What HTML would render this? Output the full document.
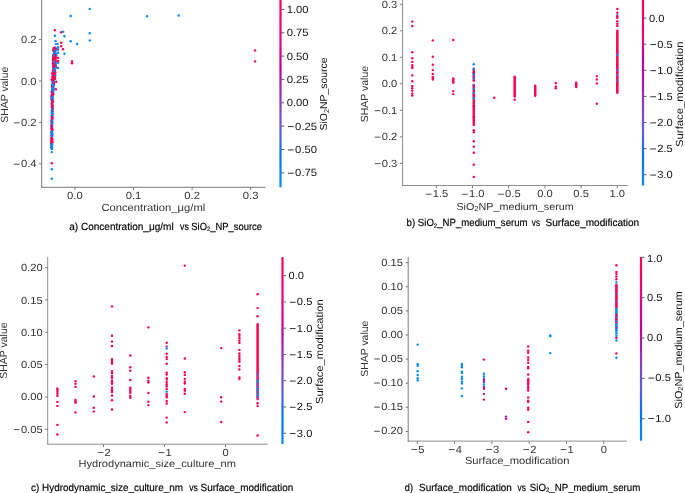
<!DOCTYPE html>
<html><head><meta charset="utf-8"><title>SHAP dependence plots</title>
<style>html,body{margin:0;padding:0;background:#fff;}body{width:685px;height:493px;overflow:hidden;font-family:"Liberation Sans",sans-serif;}svg{display:block;will-change:transform;opacity:0.9999;}text{font-family:"Liberation Sans",sans-serif;}</style>
</head><body>
<svg width="685" height="493" viewBox="0 0 685 493" font-family="Liberation Sans, sans-serif" text-rendering="geometricPrecision"><defs><linearGradient id="ga" gradientUnits="userSpaceOnUse" x1="0" y1="187.2" x2="0" y2="-8"><stop offset="0.000" stop-color="#008bfb"/><stop offset="0.050" stop-color="#0084f9"/><stop offset="0.100" stop-color="#007cf5"/><stop offset="0.150" stop-color="#0075f0"/><stop offset="0.200" stop-color="#246cea"/><stop offset="0.250" stop-color="#4b63e3"/><stop offset="0.300" stop-color="#635adb"/><stop offset="0.350" stop-color="#754fd1"/><stop offset="0.400" stop-color="#8443c6"/><stop offset="0.450" stop-color="#9135ba"/><stop offset="0.500" stop-color="#9b24ad"/><stop offset="0.550" stop-color="#ac16a7"/><stop offset="0.600" stop-color="#bb00a0"/><stop offset="0.650" stop-color="#c90098"/><stop offset="0.700" stop-color="#d5008f"/><stop offset="0.750" stop-color="#e00086"/><stop offset="0.800" stop-color="#e9007c"/><stop offset="0.850" stop-color="#f20072"/><stop offset="0.900" stop-color="#f90067"/><stop offset="0.950" stop-color="#fe005c"/><stop offset="1.000" stop-color="#ff0051"/></linearGradient><linearGradient id="gb" gradientUnits="userSpaceOnUse" x1="0" y1="185.5" x2="0" y2="-8.3"><stop offset="0.000" stop-color="#008bfb"/><stop offset="0.050" stop-color="#0084f9"/><stop offset="0.100" stop-color="#007cf5"/><stop offset="0.150" stop-color="#0075f0"/><stop offset="0.200" stop-color="#246cea"/><stop offset="0.250" stop-color="#4b63e3"/><stop offset="0.300" stop-color="#635adb"/><stop offset="0.350" stop-color="#754fd1"/><stop offset="0.400" stop-color="#8443c6"/><stop offset="0.450" stop-color="#9135ba"/><stop offset="0.500" stop-color="#9b24ad"/><stop offset="0.550" stop-color="#ac16a7"/><stop offset="0.600" stop-color="#bb00a0"/><stop offset="0.650" stop-color="#c90098"/><stop offset="0.700" stop-color="#d5008f"/><stop offset="0.750" stop-color="#e00086"/><stop offset="0.800" stop-color="#e9007c"/><stop offset="0.850" stop-color="#f20072"/><stop offset="0.900" stop-color="#f90067"/><stop offset="0.950" stop-color="#fe005c"/><stop offset="1.000" stop-color="#ff0051"/></linearGradient><linearGradient id="gc" gradientUnits="userSpaceOnUse" x1="0" y1="444.0" x2="0" y2="257.1"><stop offset="0.000" stop-color="#008bfb"/><stop offset="0.050" stop-color="#0084f9"/><stop offset="0.100" stop-color="#007cf5"/><stop offset="0.150" stop-color="#0075f0"/><stop offset="0.200" stop-color="#246cea"/><stop offset="0.250" stop-color="#4b63e3"/><stop offset="0.300" stop-color="#635adb"/><stop offset="0.350" stop-color="#754fd1"/><stop offset="0.400" stop-color="#8443c6"/><stop offset="0.450" stop-color="#9135ba"/><stop offset="0.500" stop-color="#9b24ad"/><stop offset="0.550" stop-color="#ac16a7"/><stop offset="0.600" stop-color="#bb00a0"/><stop offset="0.650" stop-color="#c90098"/><stop offset="0.700" stop-color="#d5008f"/><stop offset="0.750" stop-color="#e00086"/><stop offset="0.800" stop-color="#e9007c"/><stop offset="0.850" stop-color="#f20072"/><stop offset="0.900" stop-color="#f90067"/><stop offset="0.950" stop-color="#fe005c"/><stop offset="1.000" stop-color="#ff0051"/></linearGradient><linearGradient id="gd" gradientUnits="userSpaceOnUse" x1="0" y1="440.7" x2="0" y2="257.0"><stop offset="0.000" stop-color="#008bfb"/><stop offset="0.050" stop-color="#0084f9"/><stop offset="0.100" stop-color="#007cf5"/><stop offset="0.150" stop-color="#0075f0"/><stop offset="0.200" stop-color="#246cea"/><stop offset="0.250" stop-color="#4b63e3"/><stop offset="0.300" stop-color="#635adb"/><stop offset="0.350" stop-color="#754fd1"/><stop offset="0.400" stop-color="#8443c6"/><stop offset="0.450" stop-color="#9135ba"/><stop offset="0.500" stop-color="#9b24ad"/><stop offset="0.550" stop-color="#ac16a7"/><stop offset="0.600" stop-color="#bb00a0"/><stop offset="0.650" stop-color="#c90098"/><stop offset="0.700" stop-color="#d5008f"/><stop offset="0.750" stop-color="#e00086"/><stop offset="0.800" stop-color="#e9007c"/><stop offset="0.850" stop-color="#f20072"/><stop offset="0.900" stop-color="#f90067"/><stop offset="0.950" stop-color="#fe005c"/><stop offset="1.000" stop-color="#ff0051"/></linearGradient></defs><line x1="41.70" y1="0.00" x2="41.70" y2="187.70" stroke="#5e5e5e" stroke-width="0.85"/>
<line x1="41.30" y1="187.30" x2="265.70" y2="187.30" stroke="#5e5e5e" stroke-width="0.85"/>
<line x1="38.90" y1="39.60" x2="41.40" y2="39.60" stroke="#444" stroke-width="0.7"/>
<text x="20.94" y="43.20" font-size="10.45" fill="#333333" textLength="15.66" lengthAdjust="spacingAndGlyphs">0.2</text>
<line x1="38.90" y1="81.00" x2="41.40" y2="81.00" stroke="#444" stroke-width="0.7"/>
<text x="20.94" y="84.60" font-size="10.45" fill="#333333" textLength="15.66" lengthAdjust="spacingAndGlyphs">0.0</text>
<line x1="38.90" y1="122.40" x2="41.40" y2="122.40" stroke="#444" stroke-width="0.7"/>
<line x1="13.89" y1="122.83" x2="19.67" y2="122.83" stroke="#333333" stroke-width="0.86"/>
<text x="20.94" y="126.00" font-size="10.45" fill="#333333" textLength="15.66" lengthAdjust="spacingAndGlyphs">0.2</text>
<line x1="38.90" y1="163.80" x2="41.40" y2="163.80" stroke="#444" stroke-width="0.7"/>
<line x1="13.89" y1="164.23" x2="19.67" y2="164.23" stroke="#333333" stroke-width="0.86"/>
<text x="20.94" y="167.40" font-size="10.45" fill="#333333" textLength="15.66" lengthAdjust="spacingAndGlyphs">0.4</text>
<line x1="74.90" y1="187.60" x2="74.90" y2="190.10" stroke="#444" stroke-width="0.7"/>
<text x="67.07" y="198.50" font-size="10.45" fill="#333333" textLength="15.66" lengthAdjust="spacingAndGlyphs">0.0</text>
<line x1="133.50" y1="187.60" x2="133.50" y2="190.10" stroke="#444" stroke-width="0.7"/>
<text x="125.67" y="198.50" font-size="10.45" fill="#333333" textLength="15.66" lengthAdjust="spacingAndGlyphs">0.1</text>
<line x1="192.10" y1="187.60" x2="192.10" y2="190.10" stroke="#444" stroke-width="0.7"/>
<text x="184.27" y="198.50" font-size="10.45" fill="#333333" textLength="15.66" lengthAdjust="spacingAndGlyphs">0.2</text>
<line x1="250.70" y1="187.60" x2="250.70" y2="190.10" stroke="#444" stroke-width="0.7"/>
<text x="242.87" y="198.50" font-size="10.45" fill="#333333" textLength="15.66" lengthAdjust="spacingAndGlyphs">0.3</text>
<text x="101.4" y="210.5" font-size="10.4" text-anchor="start" fill="#333333" textLength="103.9" lengthAdjust="spacingAndGlyphs">Concentration_μg/ml</text>
<text x="8.5" y="94.7" font-size="10.4" text-anchor="middle" fill="#333333" textLength="55.9" lengthAdjust="spacingAndGlyphs" transform="rotate(-90 8.5 94.7)">SHAP value</text>
<text x="69.2" y="229.8" font-size="10.3" text-anchor="start" fill="#000" textLength="104.5" lengthAdjust="spacingAndGlyphs" stroke="#000" stroke-width="0.18">a) Concentration_μg/ml</text>
<text x="180.1" y="229.8" font-size="10.3" text-anchor="start" fill="#000" textLength="8.8" lengthAdjust="spacingAndGlyphs" stroke="#000" stroke-width="0.18">vs</text>
<text x="191.3" y="229.8" font-size="10.3" text-anchor="start" fill="#000" textLength="70.7" lengthAdjust="spacingAndGlyphs" stroke="#000" stroke-width="0.18">SiO<tspan font-size="6.5" dy="1.5">2</tspan><tspan dy="-1.5">_NP_source</tspan></text>
<rect x="279.40" y="0.00" width="2.2" height="187.20" fill="url(#ga)"/>
<line x1="281.60" y1="9.40" x2="284.20" y2="9.40" stroke="#222" stroke-width="0.75"/>
<text x="286.68" y="13.00" font-size="10.45" fill="#111111" textLength="21.92" lengthAdjust="spacingAndGlyphs">1.00</text>
<line x1="281.60" y1="32.75" x2="284.20" y2="32.75" stroke="#222" stroke-width="0.75"/>
<text x="286.68" y="36.35" font-size="10.45" fill="#111111" textLength="21.92" lengthAdjust="spacingAndGlyphs">0.75</text>
<line x1="281.60" y1="56.10" x2="284.20" y2="56.10" stroke="#222" stroke-width="0.75"/>
<text x="286.68" y="59.70" font-size="10.45" fill="#111111" textLength="21.92" lengthAdjust="spacingAndGlyphs">0.50</text>
<line x1="281.60" y1="79.45" x2="284.20" y2="79.45" stroke="#222" stroke-width="0.75"/>
<text x="286.68" y="83.05" font-size="10.45" fill="#111111" textLength="21.92" lengthAdjust="spacingAndGlyphs">0.25</text>
<line x1="281.60" y1="102.80" x2="284.20" y2="102.80" stroke="#222" stroke-width="0.75"/>
<text x="286.68" y="106.40" font-size="10.45" fill="#111111" textLength="21.92" lengthAdjust="spacingAndGlyphs">0.00</text>
<line x1="281.60" y1="126.15" x2="284.20" y2="126.15" stroke="#222" stroke-width="0.75"/>
<line x1="288.02" y1="126.58" x2="293.79" y2="126.58" stroke="#111111" stroke-width="0.86"/>
<text x="295.14" y="129.75" font-size="10.45" fill="#111111" textLength="21.92" lengthAdjust="spacingAndGlyphs">0.25</text>
<line x1="281.60" y1="149.50" x2="284.20" y2="149.50" stroke="#222" stroke-width="0.75"/>
<line x1="288.02" y1="149.93" x2="293.79" y2="149.93" stroke="#111111" stroke-width="0.86"/>
<text x="295.14" y="153.10" font-size="10.45" fill="#111111" textLength="21.92" lengthAdjust="spacingAndGlyphs">0.50</text>
<line x1="281.60" y1="172.85" x2="284.20" y2="172.85" stroke="#222" stroke-width="0.75"/>
<line x1="288.02" y1="173.28" x2="293.79" y2="173.28" stroke="#111111" stroke-width="0.86"/>
<text x="295.14" y="176.45" font-size="10.45" fill="#111111" textLength="21.92" lengthAdjust="spacingAndGlyphs">0.75</text>
<text x="327.4" y="94.0" font-size="10.0" text-anchor="middle" fill="#111111" textLength="72.9" lengthAdjust="spacingAndGlyphs" transform="rotate(-90 327.4 94.0)">SiO<tspan font-size="7" dy="1.5">2</tspan><tspan dy="-1.5">NP_source</tspan></text>
<circle cx="53.8" cy="48.1" r="1.22" fill="#ff0052"/>
<circle cx="55.0" cy="47.9" r="1.22" fill="#ff0052"/>
<circle cx="54.9" cy="47.6" r="1.22" fill="#ff0052"/>
<circle cx="53.5" cy="48.6" r="1.22" fill="#008bfb"/>
<circle cx="55.9" cy="48.6" r="1.22" fill="#008bfb"/>
<circle cx="55.3" cy="49.3" r="1.22" fill="#ff0052"/>
<circle cx="54.5" cy="50.2" r="1.22" fill="#008bfb"/>
<circle cx="56.0" cy="49.6" r="1.22" fill="#ff0052"/>
<circle cx="53.6" cy="49.6" r="1.22" fill="#ff0052"/>
<circle cx="53.8" cy="50.8" r="1.22" fill="#008bfb"/>
<circle cx="54.4" cy="50.7" r="1.22" fill="#008bfb"/>
<circle cx="53.4" cy="50.5" r="1.22" fill="#ff0052"/>
<circle cx="54.6" cy="51.5" r="1.22" fill="#008bfb"/>
<circle cx="54.7" cy="51.4" r="1.22" fill="#008bfb"/>
<circle cx="55.4" cy="51.4" r="1.22" fill="#008bfb"/>
<circle cx="54.9" cy="52.8" r="1.22" fill="#008bfb"/>
<circle cx="54.1" cy="52.9" r="1.22" fill="#008bfb"/>
<circle cx="54.5" cy="52.7" r="1.22" fill="#ff0052"/>
<circle cx="54.7" cy="53.0" r="1.22" fill="#ff0052"/>
<circle cx="55.6" cy="53.5" r="1.22" fill="#008bfb"/>
<circle cx="54.2" cy="53.6" r="1.22" fill="#008bfb"/>
<circle cx="55.0" cy="54.3" r="1.22" fill="#008bfb"/>
<circle cx="56.2" cy="54.3" r="1.22" fill="#008bfb"/>
<circle cx="53.3" cy="54.5" r="1.22" fill="#008bfb"/>
<circle cx="56.3" cy="55.5" r="1.22" fill="#008bfb"/>
<circle cx="54.4" cy="55.3" r="1.22" fill="#ff0052"/>
<circle cx="54.6" cy="54.9" r="1.22" fill="#ff0052"/>
<circle cx="53.3" cy="56.3" r="1.22" fill="#ff0052"/>
<circle cx="53.9" cy="56.0" r="1.22" fill="#ff0052"/>
<circle cx="53.4" cy="56.1" r="1.22" fill="#008bfb"/>
<circle cx="55.9" cy="57.3" r="1.22" fill="#ff0052"/>
<circle cx="54.0" cy="56.9" r="1.22" fill="#008bfb"/>
<circle cx="55.9" cy="57.4" r="1.22" fill="#ff0052"/>
<circle cx="53.6" cy="57.7" r="1.22" fill="#ff0052"/>
<circle cx="54.6" cy="58.0" r="1.22" fill="#ff0052"/>
<circle cx="53.1" cy="57.8" r="1.22" fill="#ff0052"/>
<circle cx="54.8" cy="59.2" r="1.22" fill="#ff0052"/>
<circle cx="54.7" cy="58.9" r="1.22" fill="#ff0052"/>
<circle cx="53.2" cy="59.1" r="1.22" fill="#ff0052"/>
<circle cx="55.8" cy="59.9" r="1.22" fill="#ff0052"/>
<circle cx="54.3" cy="59.4" r="1.22" fill="#ff0052"/>
<circle cx="53.2" cy="59.4" r="1.22" fill="#ff0052"/>
<circle cx="53.5" cy="60.5" r="1.22" fill="#ff0052"/>
<circle cx="53.0" cy="60.3" r="1.22" fill="#ff0052"/>
<circle cx="54.1" cy="60.2" r="1.22" fill="#ff0052"/>
<circle cx="54.9" cy="61.2" r="1.22" fill="#008bfb"/>
<circle cx="54.1" cy="61.4" r="1.22" fill="#ff0052"/>
<circle cx="55.7" cy="61.9" r="1.22" fill="#ff0052"/>
<circle cx="54.5" cy="62.1" r="1.22" fill="#ff0052"/>
<circle cx="54.0" cy="62.2" r="1.22" fill="#ff0052"/>
<circle cx="53.4" cy="62.0" r="1.22" fill="#008bfb"/>
<circle cx="54.6" cy="63.0" r="1.22" fill="#008bfb"/>
<circle cx="53.0" cy="63.3" r="1.22" fill="#ff0052"/>
<circle cx="55.6" cy="63.5" r="1.22" fill="#008bfb"/>
<circle cx="54.0" cy="63.9" r="1.22" fill="#ff0052"/>
<circle cx="54.5" cy="64.4" r="1.22" fill="#ff0052"/>
<circle cx="53.5" cy="64.4" r="1.22" fill="#ff0052"/>
<circle cx="55.5" cy="65.3" r="1.22" fill="#008bfb"/>
<circle cx="55.2" cy="64.9" r="1.22" fill="#008bfb"/>
<circle cx="53.9" cy="64.7" r="1.22" fill="#ff0052"/>
<circle cx="53.7" cy="65.8" r="1.22" fill="#ff0052"/>
<circle cx="55.8" cy="66.0" r="1.22" fill="#ff0052"/>
<circle cx="55.9" cy="66.4" r="1.22" fill="#008bfb"/>
<circle cx="53.4" cy="66.7" r="1.22" fill="#ff0052"/>
<circle cx="53.4" cy="67.0" r="1.22" fill="#ff0052"/>
<circle cx="55.4" cy="66.9" r="1.22" fill="#008bfb"/>
<circle cx="55.2" cy="67.5" r="1.22" fill="#ff0052"/>
<circle cx="55.6" cy="68.0" r="1.22" fill="#ff0052"/>
<circle cx="54.2" cy="67.5" r="1.22" fill="#ff0052"/>
<circle cx="53.7" cy="68.9" r="1.22" fill="#ff0052"/>
<circle cx="53.9" cy="68.6" r="1.22" fill="#008bfb"/>
<circle cx="55.0" cy="68.4" r="1.22" fill="#008bfb"/>
<circle cx="53.1" cy="69.9" r="1.22" fill="#ff0052"/>
<circle cx="53.1" cy="69.9" r="1.22" fill="#008bfb"/>
<circle cx="54.7" cy="69.5" r="1.22" fill="#008bfb"/>
<circle cx="53.0" cy="70.1" r="1.22" fill="#ff0052"/>
<circle cx="54.6" cy="70.5" r="1.22" fill="#008bfb"/>
<circle cx="53.9" cy="70.8" r="1.22" fill="#008bfb"/>
<circle cx="53.1" cy="71.2" r="1.22" fill="#008bfb"/>
<circle cx="53.2" cy="71.5" r="1.22" fill="#ff0052"/>
<circle cx="53.8" cy="71.1" r="1.22" fill="#ff0052"/>
<circle cx="53.5" cy="72.3" r="1.22" fill="#008bfb"/>
<circle cx="55.3" cy="72.2" r="1.22" fill="#ff0052"/>
<circle cx="54.0" cy="72.3" r="1.22" fill="#008bfb"/>
<circle cx="52.4" cy="73.2" r="1.22" fill="#ff0052"/>
<circle cx="52.3" cy="73.4" r="1.22" fill="#ff0052"/>
<circle cx="53.8" cy="73.4" r="1.22" fill="#ff0052"/>
<circle cx="53.3" cy="74.1" r="1.22" fill="#ff0052"/>
<circle cx="54.7" cy="73.8" r="1.22" fill="#ff0052"/>
<circle cx="53.0" cy="73.9" r="1.22" fill="#ff0052"/>
<circle cx="53.8" cy="75.0" r="1.22" fill="#ff0052"/>
<circle cx="55.1" cy="75.0" r="1.22" fill="#ff0052"/>
<circle cx="53.8" cy="75.0" r="1.22" fill="#ff0052"/>
<circle cx="53.5" cy="75.9" r="1.22" fill="#ff0052"/>
<circle cx="55.1" cy="76.1" r="1.22" fill="#ff0052"/>
<circle cx="55.1" cy="75.7" r="1.22" fill="#008bfb"/>
<circle cx="55.0" cy="77.1" r="1.22" fill="#ff0052"/>
<circle cx="52.4" cy="76.8" r="1.22" fill="#ff0052"/>
<circle cx="52.8" cy="76.5" r="1.22" fill="#ff0052"/>
<circle cx="54.4" cy="78.0" r="1.22" fill="#ff0052"/>
<circle cx="54.2" cy="77.8" r="1.22" fill="#ff0052"/>
<circle cx="54.7" cy="78.1" r="1.22" fill="#ff0052"/>
<circle cx="54.9" cy="78.5" r="1.22" fill="#ff0052"/>
<circle cx="55.0" cy="78.9" r="1.22" fill="#ff0052"/>
<circle cx="53.2" cy="78.6" r="1.22" fill="#ff0052"/>
<circle cx="52.4" cy="79.4" r="1.22" fill="#ff0052"/>
<circle cx="51.8" cy="79.5" r="1.22" fill="#ff0052"/>
<circle cx="51.8" cy="79.4" r="1.22" fill="#ff0052"/>
<circle cx="53.3" cy="80.1" r="1.22" fill="#ff0052"/>
<circle cx="53.8" cy="80.8" r="1.22" fill="#008bfb"/>
<circle cx="52.8" cy="80.9" r="1.22" fill="#ff0052"/>
<circle cx="52.8" cy="81.0" r="1.22" fill="#ff0052"/>
<circle cx="53.9" cy="82.5" r="1.22" fill="#008bfb"/>
<circle cx="52.5" cy="82.5" r="1.22" fill="#008bfb"/>
<circle cx="53.4" cy="82.8" r="1.22" fill="#008bfb"/>
<circle cx="53.4" cy="83.0" r="1.22" fill="#ff0052"/>
<circle cx="53.8" cy="84.1" r="1.22" fill="#ff0052"/>
<circle cx="52.3" cy="84.3" r="1.22" fill="#008bfb"/>
<circle cx="53.6" cy="84.9" r="1.22" fill="#ff0052"/>
<circle cx="53.1" cy="85.2" r="1.22" fill="#008bfb"/>
<circle cx="52.2" cy="85.8" r="1.22" fill="#008bfb"/>
<circle cx="52.2" cy="85.5" r="1.22" fill="#008bfb"/>
<circle cx="52.3" cy="86.5" r="1.22" fill="#ff0052"/>
<circle cx="53.3" cy="86.5" r="1.22" fill="#008bfb"/>
<circle cx="52.2" cy="87.5" r="1.22" fill="#008bfb"/>
<circle cx="52.3" cy="87.2" r="1.22" fill="#ff0052"/>
<circle cx="52.8" cy="88.3" r="1.22" fill="#008bfb"/>
<circle cx="53.5" cy="88.2" r="1.22" fill="#008bfb"/>
<circle cx="52.5" cy="89.4" r="1.22" fill="#008bfb"/>
<circle cx="52.4" cy="89.4" r="1.22" fill="#008bfb"/>
<circle cx="53.5" cy="90.2" r="1.22" fill="#008bfb"/>
<circle cx="53.0" cy="90.4" r="1.22" fill="#008bfb"/>
<circle cx="52.3" cy="90.8" r="1.22" fill="#008bfb"/>
<circle cx="51.8" cy="91.4" r="1.22" fill="#ff0052"/>
<circle cx="51.9" cy="91.8" r="1.22" fill="#008bfb"/>
<circle cx="53.2" cy="92.2" r="1.22" fill="#008bfb"/>
<circle cx="52.0" cy="92.8" r="1.22" fill="#ff0052"/>
<circle cx="51.9" cy="93.0" r="1.22" fill="#ff0052"/>
<circle cx="53.3" cy="94.3" r="1.22" fill="#ff0052"/>
<circle cx="52.0" cy="94.3" r="1.22" fill="#008bfb"/>
<circle cx="52.2" cy="94.4" r="1.22" fill="#ff0052"/>
<circle cx="52.4" cy="94.8" r="1.22" fill="#ff0052"/>
<circle cx="52.4" cy="95.3" r="1.22" fill="#ff0052"/>
<circle cx="51.7" cy="95.6" r="1.22" fill="#ff0052"/>
<circle cx="51.5" cy="96.4" r="1.22" fill="#ff0052"/>
<circle cx="52.6" cy="96.6" r="1.22" fill="#008bfb"/>
<circle cx="52.7" cy="97.7" r="1.22" fill="#008bfb"/>
<circle cx="52.2" cy="97.4" r="1.22" fill="#008bfb"/>
<circle cx="51.7" cy="98.6" r="1.22" fill="#008bfb"/>
<circle cx="51.5" cy="98.7" r="1.22" fill="#ff0052"/>
<circle cx="52.6" cy="99.5" r="1.22" fill="#008bfb"/>
<circle cx="51.7" cy="99.3" r="1.22" fill="#008bfb"/>
<circle cx="52.6" cy="100.4" r="1.22" fill="#ff0052"/>
<circle cx="52.4" cy="100.5" r="1.22" fill="#008bfb"/>
<circle cx="52.4" cy="100.9" r="1.22" fill="#ff0052"/>
<circle cx="52.0" cy="101.0" r="1.22" fill="#ff0052"/>
<circle cx="52.5" cy="102.0" r="1.22" fill="#ff0052"/>
<circle cx="52.4" cy="102.1" r="1.22" fill="#ff0052"/>
<circle cx="51.9" cy="103.1" r="1.22" fill="#ff0052"/>
<circle cx="52.3" cy="102.9" r="1.22" fill="#ff0052"/>
<circle cx="51.9" cy="104.0" r="1.22" fill="#ff0052"/>
<circle cx="51.9" cy="103.6" r="1.22" fill="#ff0052"/>
<circle cx="52.0" cy="104.9" r="1.22" fill="#ff0052"/>
<circle cx="52.2" cy="104.6" r="1.22" fill="#008bfb"/>
<circle cx="52.4" cy="105.8" r="1.22" fill="#ff0052"/>
<circle cx="52.3" cy="105.3" r="1.22" fill="#ff0052"/>
<circle cx="52.0" cy="106.7" r="1.22" fill="#ff0052"/>
<circle cx="52.3" cy="106.1" r="1.22" fill="#ff0052"/>
<circle cx="52.0" cy="107.5" r="1.22" fill="#ff0052"/>
<circle cx="52.3" cy="107.2" r="1.22" fill="#ff0052"/>
<circle cx="52.2" cy="108.3" r="1.22" fill="#ff0052"/>
<circle cx="52.5" cy="108.1" r="1.22" fill="#ff0052"/>
<circle cx="52.5" cy="108.8" r="1.22" fill="#008bfb"/>
<circle cx="52.4" cy="109.6" r="1.22" fill="#ff0052"/>
<circle cx="52.0" cy="109.9" r="1.22" fill="#ff0052"/>
<circle cx="51.9" cy="110.2" r="1.22" fill="#008bfb"/>
<circle cx="52.2" cy="111.4" r="1.22" fill="#ff0052"/>
<circle cx="52.4" cy="111.0" r="1.22" fill="#ff0052"/>
<circle cx="52.3" cy="111.7" r="1.22" fill="#008bfb"/>
<circle cx="52.1" cy="111.5" r="1.22" fill="#008bfb"/>
<circle cx="52.1" cy="112.8" r="1.22" fill="#ff0052"/>
<circle cx="51.8" cy="112.7" r="1.22" fill="#008bfb"/>
<circle cx="52.4" cy="113.3" r="1.22" fill="#008bfb"/>
<circle cx="52.4" cy="113.4" r="1.22" fill="#008bfb"/>
<circle cx="52.3" cy="114.9" r="1.22" fill="#008bfb"/>
<circle cx="52.0" cy="114.5" r="1.22" fill="#008bfb"/>
<circle cx="52.2" cy="115.4" r="1.22" fill="#008bfb"/>
<circle cx="51.9" cy="115.1" r="1.22" fill="#ff0052"/>
<circle cx="52.3" cy="116.2" r="1.22" fill="#ff0052"/>
<circle cx="51.9" cy="116.2" r="1.22" fill="#008bfb"/>
<circle cx="51.8" cy="117.2" r="1.22" fill="#ff0052"/>
<circle cx="52.4" cy="117.5" r="1.22" fill="#008bfb"/>
<circle cx="52.4" cy="118.6" r="1.22" fill="#ff0052"/>
<circle cx="52.2" cy="117.8" r="1.22" fill="#ff0052"/>
<circle cx="52.0" cy="119.3" r="1.22" fill="#ff0052"/>
<circle cx="51.9" cy="118.7" r="1.22" fill="#ff0052"/>
<circle cx="51.7" cy="120.0" r="1.22" fill="#008bfb"/>
<circle cx="51.9" cy="120.2" r="1.22" fill="#ff0052"/>
<circle cx="51.8" cy="121.0" r="1.22" fill="#008bfb"/>
<circle cx="52.1" cy="120.8" r="1.22" fill="#008bfb"/>
<circle cx="51.7" cy="121.6" r="1.22" fill="#ff0052"/>
<circle cx="52.0" cy="121.6" r="1.22" fill="#008bfb"/>
<circle cx="52.4" cy="122.7" r="1.22" fill="#008bfb"/>
<circle cx="51.7" cy="122.4" r="1.22" fill="#ff0052"/>
<circle cx="51.7" cy="123.4" r="1.22" fill="#008bfb"/>
<circle cx="52.0" cy="123.9" r="1.22" fill="#008bfb"/>
<circle cx="51.9" cy="124.4" r="1.22" fill="#008bfb"/>
<circle cx="51.9" cy="124.4" r="1.22" fill="#008bfb"/>
<circle cx="51.8" cy="125.8" r="1.22" fill="#ff0052"/>
<circle cx="52.0" cy="125.5" r="1.22" fill="#ff0052"/>
<circle cx="51.7" cy="126.1" r="1.22" fill="#008bfb"/>
<circle cx="51.9" cy="126.3" r="1.22" fill="#ff0052"/>
<circle cx="52.2" cy="127.5" r="1.22" fill="#008bfb"/>
<circle cx="51.6" cy="127.4" r="1.22" fill="#ff0052"/>
<circle cx="51.9" cy="128.2" r="1.22" fill="#008bfb"/>
<circle cx="51.9" cy="128.4" r="1.22" fill="#ff0052"/>
<circle cx="52.2" cy="129.4" r="1.22" fill="#ff0052"/>
<circle cx="51.6" cy="128.7" r="1.22" fill="#ff0052"/>
<circle cx="52.1" cy="130.3" r="1.22" fill="#ff0052"/>
<circle cx="52.1" cy="130.1" r="1.22" fill="#ff0052"/>
<circle cx="52.0" cy="130.4" r="1.22" fill="#ff0052"/>
<circle cx="51.7" cy="131.1" r="1.22" fill="#ff0052"/>
<circle cx="51.8" cy="131.4" r="1.22" fill="#008bfb"/>
<circle cx="52.0" cy="131.9" r="1.22" fill="#008bfb"/>
<circle cx="51.6" cy="132.6" r="1.22" fill="#ff0052"/>
<circle cx="51.8" cy="132.4" r="1.22" fill="#008bfb"/>
<circle cx="51.5" cy="133.3" r="1.22" fill="#008bfb"/>
<circle cx="52.3" cy="133.6" r="1.22" fill="#008bfb"/>
<circle cx="51.9" cy="134.2" r="1.22" fill="#008bfb"/>
<circle cx="52.3" cy="134.6" r="1.22" fill="#008bfb"/>
<circle cx="51.5" cy="135.3" r="1.22" fill="#008bfb"/>
<circle cx="51.8" cy="135.1" r="1.22" fill="#008bfb"/>
<circle cx="52.2" cy="136.0" r="1.22" fill="#008bfb"/>
<circle cx="51.8" cy="136.1" r="1.22" fill="#ff0052"/>
<circle cx="51.7" cy="137.3" r="1.22" fill="#008bfb"/>
<circle cx="51.9" cy="136.9" r="1.22" fill="#008bfb"/>
<circle cx="51.7" cy="138.3" r="1.22" fill="#008bfb"/>
<circle cx="51.7" cy="138.2" r="1.22" fill="#ff0052"/>
<circle cx="52.2" cy="138.9" r="1.22" fill="#ff0052"/>
<circle cx="51.7" cy="138.8" r="1.22" fill="#ff0052"/>
<circle cx="52.2" cy="139.5" r="1.22" fill="#ff0052"/>
<circle cx="51.6" cy="140.2" r="1.22" fill="#ff0052"/>
<circle cx="51.5" cy="140.3" r="1.22" fill="#ff0052"/>
<circle cx="52.2" cy="141.0" r="1.22" fill="#ff0052"/>
<circle cx="52.3" cy="141.9" r="1.22" fill="#ff0052"/>
<circle cx="51.6" cy="141.9" r="1.22" fill="#ff0052"/>
<circle cx="51.5" cy="142.6" r="1.22" fill="#ff0052"/>
<circle cx="51.8" cy="142.4" r="1.22" fill="#ff0052"/>
<circle cx="51.4" cy="143.2" r="1.22" fill="#ff0052"/>
<circle cx="52.2" cy="143.1" r="1.22" fill="#ff0052"/>
<circle cx="51.6" cy="144.2" r="1.22" fill="#008bfb"/>
<circle cx="52.1" cy="144.2" r="1.22" fill="#008bfb"/>
<circle cx="51.8" cy="145.1" r="1.22" fill="#ff0052"/>
<circle cx="51.6" cy="145.1" r="1.22" fill="#008bfb"/>
<circle cx="51.5" cy="146.0" r="1.22" fill="#008bfb"/>
<circle cx="52.0" cy="145.7" r="1.22" fill="#008bfb"/>
<circle cx="51.5" cy="147.3" r="1.22" fill="#008bfb"/>
<circle cx="52.0" cy="147.3" r="1.22" fill="#008bfb"/>
<circle cx="51.6" cy="148.3" r="1.22" fill="#008bfb"/>
<circle cx="51.6" cy="148.1" r="1.22" fill="#008bfb"/>
<circle cx="51.6" cy="148.4" r="1.22" fill="#008bfb"/>
<circle cx="52.1" cy="148.9" r="1.22" fill="#008bfb"/>
<circle cx="89.8" cy="8.9" r="1.22" fill="#008bfb"/>
<circle cx="70.7" cy="16.0" r="1.22" fill="#008bfb"/>
<circle cx="54.9" cy="30.3" r="1.22" fill="#ff0052"/>
<circle cx="61.2" cy="32.3" r="1.22" fill="#ff0052"/>
<circle cx="63.2" cy="31.8" r="1.22" fill="#008bfb"/>
<circle cx="89.8" cy="33.2" r="1.22" fill="#008bfb"/>
<circle cx="54.9" cy="35.8" r="1.22" fill="#008bfb"/>
<circle cx="64.4" cy="36.3" r="1.22" fill="#008bfb"/>
<circle cx="89.8" cy="40.4" r="1.22" fill="#008bfb"/>
<circle cx="70.7" cy="41.2" r="1.22" fill="#008bfb"/>
<circle cx="55.5" cy="41.0" r="1.22" fill="#008bfb"/>
<circle cx="77.1" cy="44.0" r="1.22" fill="#008bfb"/>
<circle cx="61.2" cy="42.7" r="1.22" fill="#ff0052"/>
<circle cx="55.9" cy="44.1" r="1.22" fill="#008bfb"/>
<circle cx="57.7" cy="44.1" r="1.22" fill="#008bfb"/>
<circle cx="61.2" cy="46.2" r="1.22" fill="#ff0052"/>
<circle cx="57.9" cy="47.2" r="1.22" fill="#008bfb"/>
<circle cx="54.0" cy="48.0" r="1.22" fill="#ff0052"/>
<circle cx="63.0" cy="49.3" r="1.22" fill="#ff0052"/>
<circle cx="64.4" cy="53.8" r="1.22" fill="#008bfb"/>
<circle cx="72.0" cy="61.5" r="1.22" fill="#ff0052"/>
<circle cx="72.0" cy="63.3" r="1.22" fill="#ff0052"/>
<circle cx="58.1" cy="62.7" r="1.22" fill="#008bfb"/>
<circle cx="58.1" cy="67.9" r="1.22" fill="#008bfb"/>
<circle cx="56.2" cy="81.7" r="1.22" fill="#ff0052"/>
<circle cx="55.9" cy="89.2" r="1.22" fill="#ff0052"/>
<circle cx="58.1" cy="52.8" r="1.22" fill="#008bfb"/>
<circle cx="58.1" cy="49.7" r="1.22" fill="#008bfb"/>
<circle cx="58.1" cy="47.7" r="1.22" fill="#008bfb"/>
<circle cx="58.1" cy="57.9" r="1.22" fill="#ff0052"/>
<circle cx="58.1" cy="61.0" r="1.22" fill="#ff0052"/>
<circle cx="147.1" cy="16.3" r="1.22" fill="#008bfb"/>
<circle cx="178.7" cy="15.5" r="1.22" fill="#008bfb"/>
<circle cx="255.1" cy="50.4" r="1.22" fill="#ff0052"/>
<circle cx="255.1" cy="61.4" r="1.22" fill="#ff0052"/>
<circle cx="51.8" cy="152.1" r="1.22" fill="#008bfb"/>
<circle cx="51.8" cy="163.3" r="1.22" fill="#ff0052"/>
<circle cx="51.8" cy="169.2" r="1.22" fill="#008bfb"/>
<circle cx="51.8" cy="178.7" r="1.22" fill="#008bfb"/>
<line x1="402.60" y1="0.00" x2="402.60" y2="185.87" stroke="#6a6a6a" stroke-width="0.75"/>
<line x1="402.23" y1="185.50" x2="627.90" y2="185.50" stroke="#6a6a6a" stroke-width="0.75"/>
<line x1="399.80" y1="4.30" x2="402.30" y2="4.30" stroke="#444" stroke-width="0.7"/>
<text x="381.70" y="7.80" font-size="10.35" fill="#333333" textLength="15.50" lengthAdjust="spacingAndGlyphs">0.3</text>
<line x1="399.80" y1="30.80" x2="402.30" y2="30.80" stroke="#444" stroke-width="0.7"/>
<text x="381.70" y="34.30" font-size="10.35" fill="#333333" textLength="15.50" lengthAdjust="spacingAndGlyphs">0.2</text>
<line x1="399.80" y1="57.30" x2="402.30" y2="57.30" stroke="#444" stroke-width="0.7"/>
<text x="381.70" y="60.80" font-size="10.35" fill="#333333" textLength="15.50" lengthAdjust="spacingAndGlyphs">0.1</text>
<line x1="399.80" y1="83.80" x2="402.30" y2="83.80" stroke="#444" stroke-width="0.7"/>
<text x="381.70" y="87.30" font-size="10.35" fill="#333333" textLength="15.50" lengthAdjust="spacingAndGlyphs">0.0</text>
<line x1="399.80" y1="110.30" x2="402.30" y2="110.30" stroke="#444" stroke-width="0.7"/>
<line x1="374.72" y1="110.66" x2="380.44" y2="110.66" stroke="#333333" stroke-width="0.85"/>
<text x="381.70" y="113.80" font-size="10.35" fill="#333333" textLength="15.50" lengthAdjust="spacingAndGlyphs">0.1</text>
<line x1="399.80" y1="136.80" x2="402.30" y2="136.80" stroke="#444" stroke-width="0.7"/>
<line x1="374.72" y1="137.16" x2="380.44" y2="137.16" stroke="#333333" stroke-width="0.85"/>
<text x="381.70" y="140.30" font-size="10.35" fill="#333333" textLength="15.50" lengthAdjust="spacingAndGlyphs">0.2</text>
<line x1="399.80" y1="163.30" x2="402.30" y2="163.30" stroke="#444" stroke-width="0.7"/>
<line x1="374.72" y1="163.66" x2="380.44" y2="163.66" stroke="#333333" stroke-width="0.85"/>
<text x="381.70" y="166.80" font-size="10.35" fill="#333333" textLength="15.50" lengthAdjust="spacingAndGlyphs">0.3</text>
<line x1="436.30" y1="185.80" x2="436.30" y2="188.30" stroke="#444" stroke-width="0.7"/>
<line x1="425.76" y1="194.26" x2="431.48" y2="194.26" stroke="#333333" stroke-width="0.85"/>
<text x="432.74" y="197.40" font-size="10.35" fill="#333333" textLength="15.50" lengthAdjust="spacingAndGlyphs">1.5</text>
<line x1="472.50" y1="185.80" x2="472.50" y2="188.30" stroke="#444" stroke-width="0.7"/>
<line x1="461.96" y1="194.26" x2="467.68" y2="194.26" stroke="#333333" stroke-width="0.85"/>
<text x="468.94" y="197.40" font-size="10.35" fill="#333333" textLength="15.50" lengthAdjust="spacingAndGlyphs">1.0</text>
<line x1="508.70" y1="185.80" x2="508.70" y2="188.30" stroke="#444" stroke-width="0.7"/>
<line x1="498.16" y1="194.26" x2="503.88" y2="194.26" stroke="#333333" stroke-width="0.85"/>
<text x="505.14" y="197.40" font-size="10.35" fill="#333333" textLength="15.50" lengthAdjust="spacingAndGlyphs">0.5</text>
<line x1="544.90" y1="185.80" x2="544.90" y2="188.30" stroke="#444" stroke-width="0.7"/>
<text x="537.15" y="197.40" font-size="10.35" fill="#333333" textLength="15.50" lengthAdjust="spacingAndGlyphs">0.0</text>
<line x1="581.10" y1="185.80" x2="581.10" y2="188.30" stroke="#444" stroke-width="0.7"/>
<text x="573.35" y="197.40" font-size="10.35" fill="#333333" textLength="15.50" lengthAdjust="spacingAndGlyphs">0.5</text>
<line x1="617.30" y1="185.80" x2="617.30" y2="188.30" stroke="#444" stroke-width="0.7"/>
<text x="609.55" y="197.40" font-size="10.35" fill="#333333" textLength="15.50" lengthAdjust="spacingAndGlyphs">1.0</text>
<text x="456.4" y="209.7" font-size="10.1" text-anchor="start" fill="#333333" textLength="117.3" lengthAdjust="spacingAndGlyphs">SiO<tspan font-size="7.2" dy="1.6">2</tspan><tspan dy="-1.6">NP_medium_serum</tspan></text>
<text x="368.4" y="94.1" font-size="10.3" text-anchor="middle" fill="#333333" textLength="56.3" lengthAdjust="spacingAndGlyphs" transform="rotate(-90 368.4 94.1)">SHAP value</text>
<text x="406.6" y="226.2" font-size="10.4" text-anchor="start" fill="#000" textLength="121.0" lengthAdjust="spacingAndGlyphs" stroke="#000" stroke-width="0.18">b) SiO<tspan font-size="6.5" dy="1.5">2</tspan><tspan dy="-1.5">_NP_medium_serum</tspan></text>
<text x="531.8" y="226.2" font-size="10.4" text-anchor="start" fill="#000" textLength="8.2" lengthAdjust="spacingAndGlyphs" stroke="#000" stroke-width="0.18">vs</text>
<text x="545.6" y="226.2" font-size="10.4" text-anchor="start" fill="#000" textLength="93.6" lengthAdjust="spacingAndGlyphs" stroke="#000" stroke-width="0.18">Surface_modification</text>
<rect x="641.90" y="0.00" width="2.2" height="185.50" fill="url(#gb)"/>
<line x1="644.00" y1="18.10" x2="646.40" y2="18.10" stroke="#222" stroke-width="0.75"/>
<text x="648.90" y="21.60" font-size="10.35" fill="#111111" textLength="15.50" lengthAdjust="spacingAndGlyphs">0.0</text>
<line x1="644.00" y1="44.20" x2="646.40" y2="44.20" stroke="#222" stroke-width="0.75"/>
<line x1="650.30" y1="44.56" x2="656.02" y2="44.56" stroke="#111111" stroke-width="0.85"/>
<text x="657.28" y="47.70" font-size="10.35" fill="#111111" textLength="15.50" lengthAdjust="spacingAndGlyphs">0.5</text>
<line x1="644.00" y1="70.30" x2="646.40" y2="70.30" stroke="#222" stroke-width="0.75"/>
<line x1="650.30" y1="70.66" x2="656.02" y2="70.66" stroke="#111111" stroke-width="0.85"/>
<text x="657.28" y="73.80" font-size="10.35" fill="#111111" textLength="15.50" lengthAdjust="spacingAndGlyphs">1.0</text>
<line x1="644.00" y1="96.40" x2="646.40" y2="96.40" stroke="#222" stroke-width="0.75"/>
<line x1="650.30" y1="96.76" x2="656.02" y2="96.76" stroke="#111111" stroke-width="0.85"/>
<text x="657.28" y="99.90" font-size="10.35" fill="#111111" textLength="15.50" lengthAdjust="spacingAndGlyphs">1.5</text>
<line x1="644.00" y1="122.50" x2="646.40" y2="122.50" stroke="#222" stroke-width="0.75"/>
<line x1="650.30" y1="122.86" x2="656.02" y2="122.86" stroke="#111111" stroke-width="0.85"/>
<text x="657.28" y="126.00" font-size="10.35" fill="#111111" textLength="15.50" lengthAdjust="spacingAndGlyphs">2.0</text>
<line x1="644.00" y1="148.60" x2="646.40" y2="148.60" stroke="#222" stroke-width="0.75"/>
<line x1="650.30" y1="148.96" x2="656.02" y2="148.96" stroke="#111111" stroke-width="0.85"/>
<text x="657.28" y="152.10" font-size="10.35" fill="#111111" textLength="15.50" lengthAdjust="spacingAndGlyphs">2.5</text>
<line x1="644.00" y1="174.70" x2="646.40" y2="174.70" stroke="#222" stroke-width="0.75"/>
<line x1="650.30" y1="175.06" x2="656.02" y2="175.06" stroke="#111111" stroke-width="0.85"/>
<text x="657.28" y="178.20" font-size="10.35" fill="#111111" textLength="15.50" lengthAdjust="spacingAndGlyphs">3.0</text>
<text x="683.3" y="94.2" font-size="10.3" text-anchor="middle" fill="#111111" textLength="105.5" lengthAdjust="spacingAndGlyphs" transform="rotate(-90 683.3 94.2)">Surface_modification</text>
<circle cx="412.3" cy="21.6" r="1.22" fill="#ff0052"/>
<circle cx="412.3" cy="26.0" r="1.22" fill="#ff0052"/>
<circle cx="412.3" cy="52.3" r="1.22" fill="#ff0052"/>
<circle cx="412.3" cy="58.3" r="1.22" fill="#ff0052"/>
<circle cx="412.3" cy="61.9" r="1.22" fill="#ff0052"/>
<circle cx="412.3" cy="65.1" r="1.22" fill="#ff0052"/>
<circle cx="412.3" cy="67.0" r="1.22" fill="#ff0052"/>
<circle cx="412.3" cy="68.1" r="1.22" fill="#ff0052"/>
<circle cx="412.3" cy="75.4" r="1.22" fill="#ff0052"/>
<circle cx="412.3" cy="81.3" r="1.22" fill="#ff0052"/>
<circle cx="412.3" cy="86.1" r="1.22" fill="#ff0052"/>
<circle cx="412.3" cy="88.3" r="1.22" fill="#ff0052"/>
<circle cx="412.3" cy="90.8" r="1.22" fill="#ff0052"/>
<circle cx="412.3" cy="93.7" r="1.22" fill="#ff0052"/>
<circle cx="412.3" cy="95.6" r="1.22" fill="#ff0052"/>
<circle cx="432.8" cy="40.4" r="1.22" fill="#ff0052"/>
<circle cx="432.8" cy="56.8" r="1.22" fill="#ff0052"/>
<circle cx="432.8" cy="64.8" r="1.22" fill="#ff0052"/>
<circle cx="432.8" cy="70.1" r="1.22" fill="#ff0052"/>
<circle cx="432.8" cy="74.0" r="1.22" fill="#ff0052"/>
<circle cx="432.8" cy="76.9" r="1.22" fill="#ff0052"/>
<circle cx="432.8" cy="78.1" r="1.22" fill="#ff0052"/>
<circle cx="432.8" cy="79.5" r="1.22" fill="#ff0052"/>
<circle cx="453.3" cy="40.0" r="1.22" fill="#ff0052"/>
<circle cx="453.3" cy="78.4" r="1.22" fill="#ff0052"/>
<circle cx="453.3" cy="79.8" r="1.22" fill="#ff0052"/>
<circle cx="453.3" cy="81.3" r="1.22" fill="#ff0052"/>
<circle cx="453.3" cy="82.7" r="1.22" fill="#ff0052"/>
<circle cx="453.3" cy="91.1" r="1.22" fill="#ff0052"/>
<circle cx="453.3" cy="94.1" r="1.22" fill="#ff0052"/>
<circle cx="473.8" cy="68.9" r="1.22" fill="#ff0052"/>
<circle cx="473.8" cy="70.0" r="1.22" fill="#ff0052"/>
<circle cx="473.8" cy="71.1" r="1.22" fill="#ff0052"/>
<circle cx="473.8" cy="72.2" r="1.22" fill="#ff0052"/>
<circle cx="473.8" cy="73.3" r="1.22" fill="#ff0052"/>
<circle cx="473.8" cy="74.4" r="1.22" fill="#ff0052"/>
<circle cx="473.8" cy="75.5" r="1.22" fill="#ff0052"/>
<circle cx="473.8" cy="76.6" r="1.22" fill="#ff0052"/>
<circle cx="473.8" cy="77.7" r="1.22" fill="#ff0052"/>
<circle cx="473.8" cy="78.8" r="1.22" fill="#ff0052"/>
<circle cx="473.8" cy="79.9" r="1.22" fill="#ff0052"/>
<circle cx="473.8" cy="85.4" r="1.22" fill="#ff0052"/>
<circle cx="473.8" cy="86.5" r="1.22" fill="#ff0052"/>
<circle cx="473.8" cy="87.6" r="1.22" fill="#ff0052"/>
<circle cx="473.8" cy="88.7" r="1.22" fill="#ff0052"/>
<circle cx="473.8" cy="89.8" r="1.22" fill="#ff0052"/>
<circle cx="473.8" cy="90.9" r="1.22" fill="#ff0052"/>
<circle cx="473.8" cy="92.0" r="1.22" fill="#ff0052"/>
<circle cx="473.8" cy="93.1" r="1.22" fill="#ff0052"/>
<circle cx="473.8" cy="94.2" r="1.22" fill="#ff0052"/>
<circle cx="473.8" cy="95.3" r="1.22" fill="#ff0052"/>
<circle cx="473.8" cy="96.4" r="1.22" fill="#ff0052"/>
<circle cx="473.8" cy="97.5" r="1.22" fill="#ff0052"/>
<circle cx="473.8" cy="98.6" r="1.22" fill="#ff0052"/>
<circle cx="473.8" cy="99.7" r="1.22" fill="#ff0052"/>
<circle cx="473.8" cy="100.8" r="1.22" fill="#ff0052"/>
<circle cx="473.8" cy="101.9" r="1.22" fill="#ff0052"/>
<circle cx="473.8" cy="103.0" r="1.22" fill="#ff0052"/>
<circle cx="473.8" cy="104.1" r="1.22" fill="#ff0052"/>
<circle cx="473.8" cy="105.2" r="1.22" fill="#ff0052"/>
<circle cx="473.8" cy="106.3" r="1.22" fill="#ff0052"/>
<circle cx="473.8" cy="107.4" r="1.22" fill="#ff0052"/>
<circle cx="473.8" cy="108.5" r="1.22" fill="#ff0052"/>
<circle cx="473.8" cy="109.6" r="1.22" fill="#ff0052"/>
<circle cx="473.8" cy="110.7" r="1.22" fill="#ff0052"/>
<circle cx="473.8" cy="111.8" r="1.22" fill="#ff0052"/>
<circle cx="473.8" cy="112.9" r="1.22" fill="#ff0052"/>
<circle cx="473.8" cy="114.0" r="1.22" fill="#ff0052"/>
<circle cx="473.8" cy="115.1" r="1.22" fill="#ff0052"/>
<circle cx="473.8" cy="116.2" r="1.22" fill="#ff0052"/>
<circle cx="473.8" cy="117.3" r="1.22" fill="#ff0052"/>
<circle cx="473.8" cy="118.4" r="1.22" fill="#ff0052"/>
<circle cx="473.8" cy="119.5" r="1.22" fill="#ff0052"/>
<circle cx="473.8" cy="120.6" r="1.22" fill="#ff0052"/>
<circle cx="473.8" cy="121.7" r="1.22" fill="#ff0052"/>
<circle cx="473.8" cy="122.8" r="1.22" fill="#ff0052"/>
<circle cx="473.8" cy="123.9" r="1.22" fill="#ff0052"/>
<circle cx="473.8" cy="125.0" r="1.22" fill="#ff0052"/>
<circle cx="473.8" cy="80.8" r="1.22" fill="#ff0052"/>
<circle cx="473.8" cy="84.9" r="1.22" fill="#ff0052"/>
<circle cx="473.8" cy="130.3" r="1.22" fill="#ff0052"/>
<circle cx="473.8" cy="132.2" r="1.22" fill="#ff0052"/>
<circle cx="473.8" cy="141.3" r="1.22" fill="#ff0052"/>
<circle cx="473.8" cy="146.7" r="1.22" fill="#ff0052"/>
<circle cx="473.8" cy="152.7" r="1.22" fill="#ff0052"/>
<circle cx="473.8" cy="164.8" r="1.22" fill="#ff0052"/>
<circle cx="473.8" cy="177.0" r="1.22" fill="#ff0052"/>
<circle cx="473.8" cy="64.3" r="1.22" fill="#008bfb"/>
<circle cx="473.8" cy="68.7" r="1.22" fill="#008bfb"/>
<circle cx="473.8" cy="74.6" r="1.22" fill="#008bfb"/>
<circle cx="473.8" cy="88.6" r="1.22" fill="#008bfb"/>
<circle cx="473.8" cy="92.9" r="1.22" fill="#008bfb"/>
<circle cx="473.8" cy="98.3" r="1.22" fill="#008bfb"/>
<circle cx="473.8" cy="78.8" r="1.1" fill="#3f78ee"/>
<circle cx="473.8" cy="77.2" r="1.1" fill="#8a3fd0"/>
<circle cx="473.8" cy="85.0" r="1.15" fill="#8a3fd0"/>
<circle cx="494.3" cy="97.8" r="1.22" fill="#ff0052"/>
<circle cx="514.7" cy="76.6" r="1.22" fill="#ff0052"/>
<circle cx="514.7" cy="77.6" r="1.22" fill="#ff0052"/>
<circle cx="514.7" cy="78.6" r="1.22" fill="#ff0052"/>
<circle cx="514.7" cy="79.6" r="1.22" fill="#ff0052"/>
<circle cx="514.7" cy="80.6" r="1.22" fill="#ff0052"/>
<circle cx="514.7" cy="81.6" r="1.22" fill="#ff0052"/>
<circle cx="514.7" cy="82.6" r="1.22" fill="#ff0052"/>
<circle cx="514.7" cy="83.6" r="1.22" fill="#ff0052"/>
<circle cx="514.7" cy="84.6" r="1.22" fill="#ff0052"/>
<circle cx="514.7" cy="85.6" r="1.22" fill="#ff0052"/>
<circle cx="514.7" cy="86.6" r="1.22" fill="#ff0052"/>
<circle cx="514.7" cy="87.6" r="1.22" fill="#ff0052"/>
<circle cx="514.7" cy="88.6" r="1.22" fill="#ff0052"/>
<circle cx="514.7" cy="89.6" r="1.22" fill="#ff0052"/>
<circle cx="514.7" cy="90.6" r="1.22" fill="#ff0052"/>
<circle cx="514.7" cy="91.6" r="1.22" fill="#ff0052"/>
<circle cx="514.7" cy="92.6" r="1.22" fill="#ff0052"/>
<circle cx="514.7" cy="93.6" r="1.22" fill="#ff0052"/>
<circle cx="514.7" cy="94.6" r="1.22" fill="#ff0052"/>
<circle cx="514.7" cy="95.6" r="1.22" fill="#ff0052"/>
<circle cx="514.7" cy="96.6" r="1.22" fill="#ff0052"/>
<circle cx="514.7" cy="99.8" r="1.22" fill="#ff0052"/>
<circle cx="535.2" cy="85.7" r="1.22" fill="#ff0052"/>
<circle cx="535.2" cy="86.7" r="1.22" fill="#ff0052"/>
<circle cx="535.2" cy="87.7" r="1.22" fill="#ff0052"/>
<circle cx="535.2" cy="88.7" r="1.22" fill="#ff0052"/>
<circle cx="535.2" cy="89.7" r="1.22" fill="#ff0052"/>
<circle cx="535.2" cy="90.7" r="1.22" fill="#ff0052"/>
<circle cx="535.2" cy="91.7" r="1.22" fill="#ff0052"/>
<circle cx="535.2" cy="92.7" r="1.22" fill="#ff0052"/>
<circle cx="535.2" cy="93.7" r="1.22" fill="#ff0052"/>
<circle cx="535.2" cy="94.7" r="1.22" fill="#ff0052"/>
<circle cx="535.2" cy="95.7" r="1.22" fill="#ff0052"/>
<circle cx="555.8" cy="83.0" r="1.22" fill="#ff0052"/>
<circle cx="555.8" cy="86.4" r="1.22" fill="#ff0052"/>
<circle cx="555.8" cy="88.3" r="1.22" fill="#ff0052"/>
<circle cx="576.2" cy="82.7" r="1.22" fill="#ff0052"/>
<circle cx="576.2" cy="83.8" r="1.22" fill="#ff0052"/>
<circle cx="576.2" cy="84.9" r="1.22" fill="#ff0052"/>
<circle cx="576.2" cy="86.0" r="1.22" fill="#ff0052"/>
<circle cx="576.2" cy="87.1" r="1.22" fill="#ff0052"/>
<circle cx="596.8" cy="76.1" r="1.22" fill="#ff0052"/>
<circle cx="596.8" cy="79.4" r="1.22" fill="#ff0052"/>
<circle cx="596.8" cy="83.4" r="1.22" fill="#ff0052"/>
<circle cx="596.8" cy="103.8" r="1.22" fill="#ff0052"/>
<circle cx="617.3" cy="15.1" r="1.1" fill="#4a78e8"/>
<circle cx="617.3" cy="8.9" r="1.22" fill="#ff0052"/>
<circle cx="617.3" cy="12.7" r="1.22" fill="#ff0052"/>
<circle cx="617.3" cy="16.3" r="1.22" fill="#ff0052"/>
<circle cx="617.3" cy="17.9" r="1.22" fill="#ff0052"/>
<circle cx="617.3" cy="21.3" r="1.22" fill="#ff0052"/>
<circle cx="617.3" cy="23.7" r="1.22" fill="#ff0052"/>
<circle cx="617.3" cy="25.9" r="1.22" fill="#ff0052"/>
<circle cx="617.3" cy="30.7" r="1.22" fill="#ff0052"/>
<circle cx="617.3" cy="31.7" r="1.22" fill="#ff0052"/>
<circle cx="617.3" cy="32.7" r="1.22" fill="#ff0052"/>
<circle cx="617.3" cy="33.7" r="1.22" fill="#ff0052"/>
<circle cx="617.3" cy="34.7" r="1.22" fill="#ff0052"/>
<circle cx="617.3" cy="35.7" r="1.22" fill="#ff0052"/>
<circle cx="617.3" cy="36.7" r="1.22" fill="#ff0052"/>
<circle cx="617.3" cy="37.7" r="1.22" fill="#ff0052"/>
<circle cx="617.3" cy="38.7" r="1.22" fill="#ff0052"/>
<circle cx="617.3" cy="39.7" r="1.22" fill="#ff0052"/>
<circle cx="617.3" cy="40.7" r="1.22" fill="#ff0052"/>
<circle cx="617.3" cy="41.7" r="1.22" fill="#ff0052"/>
<circle cx="617.3" cy="42.7" r="1.22" fill="#ff0052"/>
<circle cx="617.3" cy="43.7" r="1.22" fill="#ff0052"/>
<circle cx="617.3" cy="44.7" r="1.22" fill="#ff0052"/>
<circle cx="617.3" cy="45.7" r="1.22" fill="#ff0052"/>
<circle cx="617.3" cy="46.7" r="1.22" fill="#ff0052"/>
<circle cx="617.3" cy="47.7" r="1.22" fill="#ff0052"/>
<circle cx="617.3" cy="48.7" r="1.22" fill="#ff0052"/>
<circle cx="617.3" cy="49.7" r="1.22" fill="#ff0052"/>
<circle cx="617.3" cy="50.7" r="1.22" fill="#ff0052"/>
<circle cx="617.3" cy="51.7" r="1.22" fill="#ff0052"/>
<circle cx="617.3" cy="52.7" r="1.22" fill="#ff0052"/>
<circle cx="617.3" cy="53.7" r="1.22" fill="#ff0052"/>
<circle cx="617.3" cy="54.7" r="1.22" fill="#ff0052"/>
<circle cx="617.3" cy="55.7" r="1.22" fill="#ff0052"/>
<circle cx="617.3" cy="56.7" r="1.22" fill="#ff0052"/>
<circle cx="617.3" cy="57.7" r="1.22" fill="#ff0052"/>
<circle cx="617.3" cy="58.7" r="1.22" fill="#ff0052"/>
<circle cx="617.3" cy="59.7" r="1.22" fill="#ff0052"/>
<circle cx="617.3" cy="60.7" r="1.22" fill="#ff0052"/>
<circle cx="617.3" cy="61.7" r="1.22" fill="#ff0052"/>
<circle cx="617.3" cy="62.7" r="1.22" fill="#ff0052"/>
<circle cx="617.3" cy="63.7" r="1.22" fill="#ff0052"/>
<circle cx="617.3" cy="64.7" r="1.22" fill="#ff0052"/>
<circle cx="617.3" cy="65.7" r="1.22" fill="#ff0052"/>
<circle cx="617.3" cy="66.7" r="1.22" fill="#ff0052"/>
<circle cx="617.3" cy="67.7" r="1.22" fill="#ff0052"/>
<circle cx="617.3" cy="68.7" r="1.22" fill="#ff0052"/>
<circle cx="617.3" cy="69.7" r="1.22" fill="#ff0052"/>
<circle cx="617.3" cy="70.7" r="1.22" fill="#ff0052"/>
<circle cx="617.3" cy="71.7" r="1.22" fill="#ff0052"/>
<circle cx="617.3" cy="72.7" r="1.22" fill="#ff0052"/>
<circle cx="617.3" cy="73.7" r="1.22" fill="#ff0052"/>
<circle cx="617.3" cy="74.7" r="1.22" fill="#ff0052"/>
<circle cx="617.3" cy="75.7" r="1.22" fill="#ff0052"/>
<circle cx="617.3" cy="76.7" r="1.22" fill="#ff0052"/>
<circle cx="617.3" cy="77.7" r="1.22" fill="#ff0052"/>
<circle cx="617.3" cy="78.7" r="1.22" fill="#ff0052"/>
<circle cx="617.3" cy="79.7" r="1.22" fill="#ff0052"/>
<circle cx="617.3" cy="80.7" r="1.22" fill="#ff0052"/>
<circle cx="617.3" cy="81.7" r="1.22" fill="#ff0052"/>
<circle cx="617.3" cy="82.7" r="1.22" fill="#ff0052"/>
<circle cx="617.3" cy="83.7" r="1.22" fill="#ff0052"/>
<circle cx="617.3" cy="84.7" r="1.22" fill="#ff0052"/>
<circle cx="617.3" cy="85.7" r="1.22" fill="#ff0052"/>
<circle cx="617.3" cy="86.7" r="1.22" fill="#ff0052"/>
<circle cx="617.3" cy="87.7" r="1.22" fill="#ff0052"/>
<circle cx="617.3" cy="88.7" r="1.22" fill="#ff0052"/>
<circle cx="617.3" cy="89.7" r="1.22" fill="#ff0052"/>
<circle cx="617.3" cy="90.7" r="1.22" fill="#ff0052"/>
<circle cx="617.3" cy="91.7" r="1.22" fill="#ff0052"/>
<circle cx="617.3" cy="92.7" r="1.22" fill="#ff0052"/>
<circle cx="617.3" cy="54.9" r="1.22" fill="#2f7cf6"/>
<circle cx="617.3" cy="70.3" r="1.22" fill="#7a55e0"/>
<circle cx="617.3" cy="75.3" r="1.22" fill="#7a55e0"/>
<circle cx="617.3" cy="80.4" r="1.22" fill="#7a55e0"/>
<line x1="47.70" y1="257.10" x2="47.70" y2="444.57" stroke="#6a6a6a" stroke-width="0.75"/>
<line x1="47.33" y1="444.20" x2="267.80" y2="444.20" stroke="#6a6a6a" stroke-width="0.75"/>
<line x1="44.90" y1="267.70" x2="47.40" y2="267.70" stroke="#444" stroke-width="0.7"/>
<text x="20.92" y="271.20" font-size="10.35" fill="#333333" textLength="21.70" lengthAdjust="spacingAndGlyphs">0.20</text>
<line x1="44.90" y1="300.00" x2="47.40" y2="300.00" stroke="#444" stroke-width="0.7"/>
<text x="20.92" y="303.50" font-size="10.35" fill="#333333" textLength="21.70" lengthAdjust="spacingAndGlyphs">0.15</text>
<line x1="44.90" y1="332.30" x2="47.40" y2="332.30" stroke="#444" stroke-width="0.7"/>
<text x="20.92" y="335.80" font-size="10.35" fill="#333333" textLength="21.70" lengthAdjust="spacingAndGlyphs">0.10</text>
<line x1="44.90" y1="364.60" x2="47.40" y2="364.60" stroke="#444" stroke-width="0.7"/>
<text x="20.92" y="368.10" font-size="10.35" fill="#333333" textLength="21.70" lengthAdjust="spacingAndGlyphs">0.05</text>
<line x1="44.90" y1="396.90" x2="47.40" y2="396.90" stroke="#444" stroke-width="0.7"/>
<text x="20.92" y="400.40" font-size="10.35" fill="#333333" textLength="21.70" lengthAdjust="spacingAndGlyphs">0.00</text>
<line x1="44.90" y1="429.20" x2="47.40" y2="429.20" stroke="#444" stroke-width="0.7"/>
<line x1="13.86" y1="429.56" x2="19.58" y2="429.56" stroke="#333333" stroke-width="0.85"/>
<text x="20.92" y="432.70" font-size="10.35" fill="#333333" textLength="21.70" lengthAdjust="spacingAndGlyphs">0.05</text>
<line x1="103.50" y1="444.50" x2="103.50" y2="447.00" stroke="#444" stroke-width="0.7"/>
<line x1="97.73" y1="452.56" x2="103.45" y2="452.56" stroke="#333333" stroke-width="0.85"/>
<text x="104.59" y="455.70" font-size="10.35" fill="#333333" textLength="6.20" lengthAdjust="spacingAndGlyphs">2</text>
<line x1="164.50" y1="444.50" x2="164.50" y2="447.00" stroke="#444" stroke-width="0.7"/>
<line x1="158.73" y1="452.56" x2="164.45" y2="452.56" stroke="#333333" stroke-width="0.85"/>
<text x="165.59" y="455.70" font-size="10.35" fill="#333333" textLength="6.20" lengthAdjust="spacingAndGlyphs">1</text>
<line x1="225.50" y1="444.50" x2="225.50" y2="447.00" stroke="#444" stroke-width="0.7"/>
<text x="222.40" y="455.70" font-size="10.35" fill="#333333" textLength="6.20" lengthAdjust="spacingAndGlyphs">0</text>
<text x="78.5" y="467.1" font-size="10.1" text-anchor="start" fill="#333333" textLength="157.5" lengthAdjust="spacingAndGlyphs">Hydrodynamic_size_culture_nm</text>
<text x="7.3" y="350.6" font-size="10.3" text-anchor="middle" fill="#333333" textLength="56.3" lengthAdjust="spacingAndGlyphs" transform="rotate(-90 7.3 350.6)">SHAP value</text>
<text x="31.1" y="491.0" font-size="10.3" text-anchor="start" fill="#000" textLength="151.8" lengthAdjust="spacingAndGlyphs" stroke="#000" stroke-width="0.18">c) Hydrodynamic_size_culture_nm</text>
<text x="189.2" y="491.0" font-size="10.3" text-anchor="start" fill="#000" textLength="8.6" lengthAdjust="spacingAndGlyphs" stroke="#000" stroke-width="0.18">vs</text>
<text x="200.5" y="491.0" font-size="10.3" text-anchor="start" fill="#000" textLength="92.8" lengthAdjust="spacingAndGlyphs" stroke="#000" stroke-width="0.18">Surface_modification</text>
<rect x="281.40" y="257.10" width="2.2" height="186.90" fill="url(#gc)"/>
<line x1="283.60" y1="275.70" x2="286.00" y2="275.70" stroke="#222" stroke-width="0.75"/>
<text x="288.50" y="279.20" font-size="10.35" fill="#111111" textLength="15.50" lengthAdjust="spacingAndGlyphs">0.0</text>
<line x1="283.60" y1="301.95" x2="286.00" y2="301.95" stroke="#222" stroke-width="0.75"/>
<line x1="289.90" y1="302.31" x2="295.62" y2="302.31" stroke="#111111" stroke-width="0.85"/>
<text x="296.88" y="305.45" font-size="10.35" fill="#111111" textLength="15.50" lengthAdjust="spacingAndGlyphs">0.5</text>
<line x1="283.60" y1="328.20" x2="286.00" y2="328.20" stroke="#222" stroke-width="0.75"/>
<line x1="289.90" y1="328.56" x2="295.62" y2="328.56" stroke="#111111" stroke-width="0.85"/>
<text x="296.88" y="331.70" font-size="10.35" fill="#111111" textLength="15.50" lengthAdjust="spacingAndGlyphs">1.0</text>
<line x1="283.60" y1="354.45" x2="286.00" y2="354.45" stroke="#222" stroke-width="0.75"/>
<line x1="289.90" y1="354.81" x2="295.62" y2="354.81" stroke="#111111" stroke-width="0.85"/>
<text x="296.88" y="357.95" font-size="10.35" fill="#111111" textLength="15.50" lengthAdjust="spacingAndGlyphs">1.5</text>
<line x1="283.60" y1="380.70" x2="286.00" y2="380.70" stroke="#222" stroke-width="0.75"/>
<line x1="289.90" y1="381.06" x2="295.62" y2="381.06" stroke="#111111" stroke-width="0.85"/>
<text x="296.88" y="384.20" font-size="10.35" fill="#111111" textLength="15.50" lengthAdjust="spacingAndGlyphs">2.0</text>
<line x1="283.60" y1="406.95" x2="286.00" y2="406.95" stroke="#222" stroke-width="0.75"/>
<line x1="289.90" y1="407.31" x2="295.62" y2="407.31" stroke="#111111" stroke-width="0.85"/>
<text x="296.88" y="410.45" font-size="10.35" fill="#111111" textLength="15.50" lengthAdjust="spacingAndGlyphs">2.5</text>
<line x1="283.60" y1="433.20" x2="286.00" y2="433.20" stroke="#222" stroke-width="0.75"/>
<line x1="289.90" y1="433.56" x2="295.62" y2="433.56" stroke="#111111" stroke-width="0.85"/>
<text x="296.88" y="436.70" font-size="10.35" fill="#111111" textLength="15.50" lengthAdjust="spacingAndGlyphs">3.0</text>
<text x="323.2" y="351.7" font-size="10.3" text-anchor="middle" fill="#111111" textLength="104.8" lengthAdjust="spacingAndGlyphs" transform="rotate(-90 323.2 351.7)">Surface_modification</text>
<circle cx="57.4" cy="388.4" r="1.22" fill="#ff0052"/>
<circle cx="57.4" cy="390.1" r="1.22" fill="#ff0052"/>
<circle cx="57.4" cy="391.7" r="1.22" fill="#ff0052"/>
<circle cx="57.4" cy="393.8" r="1.22" fill="#ff0052"/>
<circle cx="57.4" cy="395.9" r="1.22" fill="#ff0052"/>
<circle cx="57.4" cy="401.9" r="1.22" fill="#ff0052"/>
<circle cx="57.4" cy="405.9" r="1.22" fill="#ff0052"/>
<circle cx="57.4" cy="424.9" r="1.22" fill="#ff0052"/>
<circle cx="57.4" cy="434.5" r="1.22" fill="#ff0052"/>
<circle cx="75.5" cy="381.1" r="1.22" fill="#ff0052"/>
<circle cx="75.5" cy="383.7" r="1.22" fill="#ff0052"/>
<circle cx="75.5" cy="386.9" r="1.22" fill="#ff0052"/>
<circle cx="75.5" cy="400.0" r="1.22" fill="#ff0052"/>
<circle cx="75.5" cy="401.5" r="1.22" fill="#ff0052"/>
<circle cx="75.5" cy="402.7" r="1.22" fill="#ff0052"/>
<circle cx="75.5" cy="412.4" r="1.22" fill="#ff0052"/>
<circle cx="93.8" cy="376.4" r="1.22" fill="#ff0052"/>
<circle cx="93.8" cy="396.5" r="1.22" fill="#ff0052"/>
<circle cx="93.8" cy="407.8" r="1.22" fill="#ff0052"/>
<circle cx="93.8" cy="411.4" r="1.22" fill="#ff0052"/>
<circle cx="112.0" cy="306.4" r="1.22" fill="#ff0052"/>
<circle cx="112.0" cy="335.8" r="1.22" fill="#ff0052"/>
<circle cx="112.0" cy="341.6" r="1.22" fill="#ff0052"/>
<circle cx="112.0" cy="346.0" r="1.22" fill="#ff0052"/>
<circle cx="112.0" cy="359.1" r="1.22" fill="#ff0052"/>
<circle cx="112.0" cy="360.6" r="1.22" fill="#ff0052"/>
<circle cx="112.0" cy="362.0" r="1.22" fill="#ff0052"/>
<circle cx="112.0" cy="363.5" r="1.22" fill="#ff0052"/>
<circle cx="112.0" cy="371.1" r="1.22" fill="#ff0052"/>
<circle cx="112.0" cy="373.0" r="1.22" fill="#ff0052"/>
<circle cx="112.0" cy="375.9" r="1.22" fill="#ff0052"/>
<circle cx="112.0" cy="377.8" r="1.22" fill="#ff0052"/>
<circle cx="112.0" cy="380.8" r="1.22" fill="#ff0052"/>
<circle cx="112.0" cy="382.2" r="1.22" fill="#ff0052"/>
<circle cx="112.0" cy="383.7" r="1.22" fill="#ff0052"/>
<circle cx="112.0" cy="387.6" r="1.22" fill="#ff0052"/>
<circle cx="112.0" cy="389.1" r="1.22" fill="#ff0052"/>
<circle cx="112.0" cy="390.5" r="1.22" fill="#ff0052"/>
<circle cx="112.0" cy="392.0" r="1.22" fill="#ff0052"/>
<circle cx="112.0" cy="395.4" r="1.22" fill="#ff0052"/>
<circle cx="112.0" cy="400.3" r="1.22" fill="#ff0052"/>
<circle cx="112.0" cy="409.5" r="1.22" fill="#ff0052"/>
<circle cx="130.3" cy="355.5" r="1.22" fill="#ff0052"/>
<circle cx="130.3" cy="367.3" r="1.22" fill="#ff0052"/>
<circle cx="130.3" cy="370.8" r="1.22" fill="#ff0052"/>
<circle cx="130.3" cy="380.0" r="1.22" fill="#ff0052"/>
<circle cx="130.3" cy="387.6" r="1.22" fill="#ff0052"/>
<circle cx="130.3" cy="389.1" r="1.22" fill="#ff0052"/>
<circle cx="130.3" cy="391.0" r="1.22" fill="#ff0052"/>
<circle cx="130.3" cy="392.7" r="1.22" fill="#ff0052"/>
<circle cx="130.3" cy="395.7" r="1.22" fill="#ff0052"/>
<circle cx="130.3" cy="397.8" r="1.22" fill="#ff0052"/>
<circle cx="148.4" cy="327.4" r="1.22" fill="#ff0052"/>
<circle cx="148.4" cy="377.8" r="1.22" fill="#ff0052"/>
<circle cx="148.4" cy="380.7" r="1.22" fill="#ff0052"/>
<circle cx="148.4" cy="382.5" r="1.22" fill="#ff0052"/>
<circle cx="148.4" cy="393.0" r="1.22" fill="#ff0052"/>
<circle cx="148.4" cy="401.7" r="1.22" fill="#ff0052"/>
<circle cx="148.4" cy="405.1" r="1.22" fill="#ff0052"/>
<circle cx="166.7" cy="342.7" r="1.22" fill="#ff0052"/>
<circle cx="166.7" cy="353.8" r="1.22" fill="#ff0052"/>
<circle cx="166.7" cy="357.0" r="1.22" fill="#ff0052"/>
<circle cx="166.7" cy="359.1" r="1.22" fill="#ff0052"/>
<circle cx="166.7" cy="363.8" r="1.22" fill="#ff0052"/>
<circle cx="166.7" cy="372.7" r="1.22" fill="#ff0052"/>
<circle cx="166.7" cy="374.6" r="1.22" fill="#ff0052"/>
<circle cx="166.7" cy="378.1" r="1.22" fill="#ff0052"/>
<circle cx="166.7" cy="379.5" r="1.22" fill="#ff0052"/>
<circle cx="166.7" cy="382.1" r="1.22" fill="#ff0052"/>
<circle cx="166.7" cy="384.2" r="1.22" fill="#ff0052"/>
<circle cx="166.7" cy="386.3" r="1.22" fill="#ff0052"/>
<circle cx="166.7" cy="388.9" r="1.22" fill="#ff0052"/>
<circle cx="166.7" cy="394.0" r="1.22" fill="#ff0052"/>
<circle cx="166.7" cy="395.7" r="1.22" fill="#ff0052"/>
<circle cx="166.7" cy="397.2" r="1.22" fill="#ff0052"/>
<circle cx="166.7" cy="401.0" r="1.22" fill="#ff0052"/>
<circle cx="166.7" cy="403.5" r="1.22" fill="#ff0052"/>
<circle cx="166.7" cy="417.6" r="1.22" fill="#ff0052"/>
<circle cx="166.7" cy="422.4" r="1.22" fill="#ff0052"/>
<circle cx="166.7" cy="346.4" r="1.22" fill="#b03aa8"/>
<circle cx="166.7" cy="348.6" r="1.22" fill="#008bfb"/>
<circle cx="166.7" cy="391.6" r="1.22" fill="#008bfb"/>
<circle cx="184.8" cy="265.6" r="1.22" fill="#ff0052"/>
<circle cx="184.8" cy="358.5" r="1.22" fill="#ff0052"/>
<circle cx="184.8" cy="372.2" r="1.22" fill="#ff0052"/>
<circle cx="184.8" cy="374.9" r="1.22" fill="#ff0052"/>
<circle cx="184.8" cy="378.9" r="1.22" fill="#ff0052"/>
<circle cx="184.8" cy="381.7" r="1.22" fill="#ff0052"/>
<circle cx="184.8" cy="383.5" r="1.22" fill="#ff0052"/>
<circle cx="184.8" cy="388.9" r="1.22" fill="#ff0052"/>
<circle cx="184.8" cy="390.8" r="1.22" fill="#ff0052"/>
<circle cx="184.8" cy="393.7" r="1.22" fill="#ff0052"/>
<circle cx="184.8" cy="412.1" r="1.22" fill="#ff0052"/>
<circle cx="221.2" cy="348.1" r="1.22" fill="#ff0052"/>
<circle cx="221.2" cy="397.2" r="1.22" fill="#ff0052"/>
<circle cx="221.2" cy="401.6" r="1.22" fill="#ff0052"/>
<circle cx="221.2" cy="422.0" r="1.22" fill="#ff0052"/>
<circle cx="239.4" cy="330.4" r="1.22" fill="#ff0052"/>
<circle cx="239.4" cy="334.1" r="1.22" fill="#ff0052"/>
<circle cx="239.4" cy="335.7" r="1.22" fill="#ff0052"/>
<circle cx="239.4" cy="338.2" r="1.22" fill="#ff0052"/>
<circle cx="239.4" cy="340.7" r="1.22" fill="#ff0052"/>
<circle cx="239.4" cy="342.9" r="1.22" fill="#ff0052"/>
<circle cx="239.4" cy="349.9" r="1.22" fill="#ff0052"/>
<circle cx="239.4" cy="353.5" r="1.22" fill="#ff0052"/>
<circle cx="239.4" cy="355.7" r="1.22" fill="#ff0052"/>
<circle cx="239.4" cy="357.9" r="1.22" fill="#ff0052"/>
<circle cx="239.4" cy="359.9" r="1.22" fill="#ff0052"/>
<circle cx="239.4" cy="361.9" r="1.22" fill="#ff0052"/>
<circle cx="239.4" cy="366.0" r="1.22" fill="#ff0052"/>
<circle cx="239.4" cy="369.5" r="1.22" fill="#ff0052"/>
<circle cx="239.4" cy="377.5" r="1.22" fill="#ff0052"/>
<circle cx="239.4" cy="379.1" r="1.22" fill="#ff0052"/>
<circle cx="257.6" cy="294.3" r="1.22" fill="#ff0052"/>
<circle cx="257.6" cy="308.1" r="1.22" fill="#ff0052"/>
<circle cx="257.6" cy="316.3" r="1.22" fill="#ff0052"/>
<circle cx="257.6" cy="324.1" r="1.22" fill="#ff0052"/>
<circle cx="257.6" cy="325.1" r="1.22" fill="#ff0052"/>
<circle cx="257.6" cy="326.1" r="1.22" fill="#ff0052"/>
<circle cx="257.6" cy="327.1" r="1.22" fill="#ff0052"/>
<circle cx="257.6" cy="328.1" r="1.22" fill="#ff0052"/>
<circle cx="257.6" cy="329.1" r="1.22" fill="#ff0052"/>
<circle cx="257.6" cy="330.1" r="1.22" fill="#ff0052"/>
<circle cx="257.6" cy="331.1" r="1.22" fill="#ff0052"/>
<circle cx="257.6" cy="332.1" r="1.22" fill="#ff0052"/>
<circle cx="257.6" cy="333.1" r="1.22" fill="#ff0052"/>
<circle cx="257.6" cy="334.1" r="1.22" fill="#ff0052"/>
<circle cx="257.6" cy="335.1" r="1.22" fill="#ff0052"/>
<circle cx="257.6" cy="336.1" r="1.22" fill="#ff0052"/>
<circle cx="257.6" cy="337.1" r="1.22" fill="#ff0052"/>
<circle cx="257.6" cy="338.1" r="1.22" fill="#ff0052"/>
<circle cx="257.6" cy="339.1" r="1.22" fill="#ff0052"/>
<circle cx="257.6" cy="340.1" r="1.22" fill="#ff0052"/>
<circle cx="257.6" cy="341.1" r="1.22" fill="#ff0052"/>
<circle cx="257.6" cy="342.1" r="1.22" fill="#ff0052"/>
<circle cx="257.6" cy="343.1" r="1.22" fill="#ff0052"/>
<circle cx="257.6" cy="344.1" r="1.22" fill="#ff0052"/>
<circle cx="257.6" cy="345.1" r="1.22" fill="#ff0052"/>
<circle cx="257.6" cy="346.1" r="1.22" fill="#ff0052"/>
<circle cx="257.6" cy="347.1" r="1.22" fill="#ff0052"/>
<circle cx="257.6" cy="348.1" r="1.22" fill="#ff0052"/>
<circle cx="257.6" cy="349.1" r="1.22" fill="#ff0052"/>
<circle cx="257.6" cy="350.1" r="1.22" fill="#ff0052"/>
<circle cx="257.6" cy="351.1" r="1.22" fill="#ff0052"/>
<circle cx="257.6" cy="352.1" r="1.22" fill="#ff0052"/>
<circle cx="257.6" cy="353.1" r="1.22" fill="#ff0052"/>
<circle cx="257.6" cy="354.1" r="1.22" fill="#ff0052"/>
<circle cx="257.6" cy="355.1" r="1.22" fill="#ff0052"/>
<circle cx="257.6" cy="356.1" r="1.22" fill="#ff0052"/>
<circle cx="257.6" cy="357.1" r="1.22" fill="#ff0052"/>
<circle cx="257.6" cy="358.1" r="1.22" fill="#ff0052"/>
<circle cx="257.6" cy="359.1" r="1.22" fill="#ff0052"/>
<circle cx="257.6" cy="360.1" r="1.22" fill="#ff0052"/>
<circle cx="257.6" cy="361.1" r="1.22" fill="#ff0052"/>
<circle cx="257.6" cy="362.1" r="1.22" fill="#ff0052"/>
<circle cx="257.6" cy="363.1" r="1.22" fill="#ff0052"/>
<circle cx="257.6" cy="364.1" r="1.22" fill="#ff0052"/>
<circle cx="257.6" cy="365.1" r="1.22" fill="#ff0052"/>
<circle cx="257.6" cy="366.1" r="1.22" fill="#ff0052"/>
<circle cx="257.6" cy="367.1" r="1.22" fill="#ff0052"/>
<circle cx="257.6" cy="368.1" r="1.22" fill="#ff0052"/>
<circle cx="257.6" cy="369.1" r="1.22" fill="#ff0052"/>
<circle cx="257.6" cy="370.1" r="1.22" fill="#ff0052"/>
<circle cx="257.6" cy="371.1" r="1.22" fill="#ff0052"/>
<circle cx="257.6" cy="372.1" r="1.22" fill="#ff0052"/>
<circle cx="257.6" cy="373.1" r="1.22" fill="#ff0052"/>
<circle cx="257.6" cy="374.1" r="1.22" fill="#ff0052"/>
<circle cx="257.6" cy="375.1" r="1.22" fill="#ff0052"/>
<circle cx="257.6" cy="376.1" r="1.22" fill="#ff0052"/>
<circle cx="257.6" cy="377.1" r="1.22" fill="#ff0052"/>
<circle cx="257.6" cy="378.1" r="1.22" fill="#ff0052"/>
<circle cx="257.6" cy="379.1" r="1.22" fill="#ff0052"/>
<circle cx="257.6" cy="380.1" r="1.22" fill="#ff0052"/>
<circle cx="257.6" cy="381.1" r="1.22" fill="#ff0052"/>
<circle cx="257.6" cy="382.1" r="1.22" fill="#ff0052"/>
<circle cx="257.6" cy="383.1" r="1.22" fill="#ff0052"/>
<circle cx="257.6" cy="384.1" r="1.22" fill="#ff0052"/>
<circle cx="257.6" cy="385.1" r="1.22" fill="#ff0052"/>
<circle cx="257.6" cy="386.1" r="1.22" fill="#ff0052"/>
<circle cx="257.6" cy="387.1" r="1.22" fill="#ff0052"/>
<circle cx="257.6" cy="388.1" r="1.22" fill="#ff0052"/>
<circle cx="257.6" cy="389.1" r="1.22" fill="#ff0052"/>
<circle cx="257.6" cy="390.1" r="1.22" fill="#ff0052"/>
<circle cx="257.6" cy="391.1" r="1.22" fill="#ff0052"/>
<circle cx="257.6" cy="392.1" r="1.22" fill="#ff0052"/>
<circle cx="257.6" cy="393.1" r="1.22" fill="#ff0052"/>
<circle cx="257.6" cy="394.1" r="1.22" fill="#ff0052"/>
<circle cx="257.6" cy="395.1" r="1.22" fill="#ff0052"/>
<circle cx="257.6" cy="396.1" r="1.22" fill="#ff0052"/>
<circle cx="257.6" cy="397.1" r="1.22" fill="#ff0052"/>
<circle cx="257.6" cy="398.1" r="1.22" fill="#ff0052"/>
<circle cx="257.6" cy="399.1" r="1.22" fill="#ff0052"/>
<circle cx="257.6" cy="374.2" r="1.1" fill="#7a4fd8"/>
<circle cx="257.6" cy="375.8" r="1.1" fill="#7a4fd8"/>
<circle cx="257.6" cy="384.0" r="1.1" fill="#7a4fd8"/>
<circle cx="257.6" cy="386.2" r="1.1" fill="#7a4fd8"/>
<circle cx="257.6" cy="397.8" r="1.1" fill="#7a4fd8"/>
<circle cx="257.6" cy="380.4" r="1.2" fill="#008bfb"/>
<circle cx="257.6" cy="381.8" r="1.2" fill="#008bfb"/>
<circle cx="257.6" cy="388.6" r="1.2" fill="#008bfb"/>
<circle cx="257.6" cy="390.4" r="1.2" fill="#008bfb"/>
<circle cx="257.6" cy="393.6" r="1.2" fill="#008bfb"/>
<circle cx="257.6" cy="395.4" r="1.2" fill="#008bfb"/>
<circle cx="257.6" cy="403.3" r="1.22" fill="#ff0052"/>
<circle cx="257.6" cy="406.1" r="1.22" fill="#ff0052"/>
<circle cx="257.6" cy="435.5" r="1.22" fill="#ff0052"/>
<line x1="408.20" y1="257.10" x2="408.20" y2="441.60" stroke="#8e8e8e" stroke-width="1.15"/>
<line x1="407.70" y1="441.10" x2="626.90" y2="441.10" stroke="#7c7c7c" stroke-width="0.85"/>
<line x1="405.60" y1="262.70" x2="408.10" y2="262.70" stroke="#444" stroke-width="0.7"/>
<text x="381.22" y="265.70" font-size="10.35" fill="#333333" textLength="21.70" lengthAdjust="spacingAndGlyphs">0.15</text>
<line x1="405.60" y1="286.80" x2="408.10" y2="286.80" stroke="#444" stroke-width="0.7"/>
<text x="381.22" y="289.80" font-size="10.35" fill="#333333" textLength="21.70" lengthAdjust="spacingAndGlyphs">0.10</text>
<line x1="405.60" y1="310.90" x2="408.10" y2="310.90" stroke="#444" stroke-width="0.7"/>
<text x="381.22" y="313.90" font-size="10.35" fill="#333333" textLength="21.70" lengthAdjust="spacingAndGlyphs">0.05</text>
<line x1="405.60" y1="335.00" x2="408.10" y2="335.00" stroke="#444" stroke-width="0.7"/>
<text x="381.22" y="338.00" font-size="10.35" fill="#333333" textLength="21.70" lengthAdjust="spacingAndGlyphs">0.00</text>
<line x1="405.60" y1="359.10" x2="408.10" y2="359.10" stroke="#444" stroke-width="0.7"/>
<line x1="374.16" y1="358.96" x2="379.88" y2="358.96" stroke="#333333" stroke-width="0.85"/>
<text x="381.22" y="362.10" font-size="10.35" fill="#333333" textLength="21.70" lengthAdjust="spacingAndGlyphs">0.05</text>
<line x1="405.60" y1="383.20" x2="408.10" y2="383.20" stroke="#444" stroke-width="0.7"/>
<line x1="374.16" y1="383.06" x2="379.88" y2="383.06" stroke="#333333" stroke-width="0.85"/>
<text x="381.22" y="386.20" font-size="10.35" fill="#333333" textLength="21.70" lengthAdjust="spacingAndGlyphs">0.10</text>
<line x1="405.60" y1="407.30" x2="408.10" y2="407.30" stroke="#444" stroke-width="0.7"/>
<line x1="374.16" y1="407.16" x2="379.88" y2="407.16" stroke="#333333" stroke-width="0.85"/>
<text x="381.22" y="410.30" font-size="10.35" fill="#333333" textLength="21.70" lengthAdjust="spacingAndGlyphs">0.15</text>
<line x1="405.60" y1="431.40" x2="408.10" y2="431.40" stroke="#444" stroke-width="0.7"/>
<line x1="374.16" y1="431.26" x2="379.88" y2="431.26" stroke="#333333" stroke-width="0.85"/>
<text x="381.22" y="434.40" font-size="10.35" fill="#333333" textLength="21.70" lengthAdjust="spacingAndGlyphs">0.20</text>
<line x1="417.30" y1="441.40" x2="417.30" y2="443.90" stroke="#444" stroke-width="0.7"/>
<line x1="411.53" y1="449.56" x2="417.25" y2="449.56" stroke="#333333" stroke-width="0.85"/>
<text x="418.39" y="452.70" font-size="10.35" fill="#333333" textLength="6.20" lengthAdjust="spacingAndGlyphs">5</text>
<line x1="454.60" y1="441.40" x2="454.60" y2="443.90" stroke="#444" stroke-width="0.7"/>
<line x1="448.83" y1="449.56" x2="454.55" y2="449.56" stroke="#333333" stroke-width="0.85"/>
<text x="455.69" y="452.70" font-size="10.35" fill="#333333" textLength="6.20" lengthAdjust="spacingAndGlyphs">4</text>
<line x1="491.90" y1="441.40" x2="491.90" y2="443.90" stroke="#444" stroke-width="0.7"/>
<line x1="486.13" y1="449.56" x2="491.85" y2="449.56" stroke="#333333" stroke-width="0.85"/>
<text x="492.99" y="452.70" font-size="10.35" fill="#333333" textLength="6.20" lengthAdjust="spacingAndGlyphs">3</text>
<line x1="529.20" y1="441.40" x2="529.20" y2="443.90" stroke="#444" stroke-width="0.7"/>
<line x1="523.43" y1="449.56" x2="529.15" y2="449.56" stroke="#333333" stroke-width="0.85"/>
<text x="530.29" y="452.70" font-size="10.35" fill="#333333" textLength="6.20" lengthAdjust="spacingAndGlyphs">2</text>
<line x1="566.50" y1="441.40" x2="566.50" y2="443.90" stroke="#444" stroke-width="0.7"/>
<line x1="560.73" y1="449.56" x2="566.45" y2="449.56" stroke="#333333" stroke-width="0.85"/>
<text x="567.59" y="452.70" font-size="10.35" fill="#333333" textLength="6.20" lengthAdjust="spacingAndGlyphs">1</text>
<line x1="603.80" y1="441.40" x2="603.80" y2="443.90" stroke="#444" stroke-width="0.7"/>
<text x="600.70" y="452.70" font-size="10.35" fill="#333333" textLength="6.20" lengthAdjust="spacingAndGlyphs">0</text>
<text x="464.9" y="464.1" font-size="10.3" text-anchor="start" fill="#333333" textLength="104.6" lengthAdjust="spacingAndGlyphs">Surface_modification</text>
<text x="368.4" y="348.7" font-size="10.3" text-anchor="middle" fill="#333333" textLength="56.2" lengthAdjust="spacingAndGlyphs" transform="rotate(-90 368.4 348.7)">SHAP value</text>
<text x="404.8" y="490.5" font-size="10.3" text-anchor="start" fill="#000" textLength="8.2" lengthAdjust="spacingAndGlyphs" stroke="#000" stroke-width="0.18">d)</text>
<text x="419.1" y="490.5" font-size="10.3" text-anchor="start" fill="#000" textLength="92.8" lengthAdjust="spacingAndGlyphs" stroke="#000" stroke-width="0.18">Surface_modification</text>
<text x="517.6" y="490.5" font-size="10.3" text-anchor="start" fill="#000" textLength="8.3" lengthAdjust="spacingAndGlyphs" stroke="#000" stroke-width="0.18">vs</text>
<text x="529.8" y="490.5" font-size="10.3" text-anchor="start" fill="#000" textLength="110.4" lengthAdjust="spacingAndGlyphs" stroke="#000" stroke-width="0.18">SiO<tspan font-size="6.5" dy="1.5">2</tspan><tspan dy="-1.5">_NP_medium_serum</tspan></text>
<rect x="639.90" y="257.00" width="2.2" height="183.70" fill="url(#gd)"/>
<line x1="642.10" y1="257.30" x2="644.50" y2="257.30" stroke="#222" stroke-width="0.75"/>
<text x="647.00" y="261.60" font-size="10.35" fill="#111111" textLength="15.50" lengthAdjust="spacingAndGlyphs">1.0</text>
<line x1="642.10" y1="297.65" x2="644.50" y2="297.65" stroke="#222" stroke-width="0.75"/>
<text x="647.00" y="300.95" font-size="10.35" fill="#111111" textLength="15.50" lengthAdjust="spacingAndGlyphs">0.5</text>
<line x1="642.10" y1="338.00" x2="644.50" y2="338.00" stroke="#222" stroke-width="0.75"/>
<text x="647.00" y="340.90" font-size="10.35" fill="#111111" textLength="15.50" lengthAdjust="spacingAndGlyphs">0.0</text>
<line x1="642.10" y1="378.35" x2="644.50" y2="378.35" stroke="#222" stroke-width="0.75"/>
<line x1="648.40" y1="378.11" x2="654.12" y2="378.11" stroke="#111111" stroke-width="0.85"/>
<text x="655.38" y="381.25" font-size="10.35" fill="#111111" textLength="15.50" lengthAdjust="spacingAndGlyphs">0.5</text>
<line x1="642.10" y1="418.70" x2="644.50" y2="418.70" stroke="#222" stroke-width="0.75"/>
<line x1="648.40" y1="418.46" x2="654.12" y2="418.46" stroke="#111111" stroke-width="0.85"/>
<text x="655.38" y="421.60" font-size="10.35" fill="#111111" textLength="15.50" lengthAdjust="spacingAndGlyphs">1.0</text>
<text x="681.9" y="349.9" font-size="10.3" text-anchor="middle" fill="#111111" textLength="117.6" lengthAdjust="spacingAndGlyphs" transform="rotate(-90 681.9 349.9)">SiO<tspan font-size="7" dy="1.5">2</tspan><tspan dy="-1.5">NP_medium_serum</tspan></text>
<circle cx="417.7" cy="344.6" r="1.22" fill="#008bfb"/>
<circle cx="417.7" cy="363.9" r="1.22" fill="#008bfb"/>
<circle cx="417.7" cy="365.8" r="1.22" fill="#008bfb"/>
<circle cx="417.7" cy="371.3" r="1.22" fill="#008bfb"/>
<circle cx="417.7" cy="375.0" r="1.22" fill="#008bfb"/>
<circle cx="417.7" cy="378.2" r="1.22" fill="#008bfb"/>
<circle cx="417.7" cy="380.4" r="1.22" fill="#008bfb"/>
<circle cx="461.9" cy="363.9" r="1.22" fill="#008bfb"/>
<circle cx="461.9" cy="365.8" r="1.22" fill="#008bfb"/>
<circle cx="461.9" cy="367.2" r="1.22" fill="#008bfb"/>
<circle cx="461.9" cy="371.6" r="1.22" fill="#008bfb"/>
<circle cx="461.9" cy="373.1" r="1.22" fill="#008bfb"/>
<circle cx="461.9" cy="376.7" r="1.22" fill="#008bfb"/>
<circle cx="461.9" cy="378.9" r="1.22" fill="#008bfb"/>
<circle cx="461.9" cy="381.8" r="1.22" fill="#008bfb"/>
<circle cx="461.9" cy="383.6" r="1.22" fill="#008bfb"/>
<circle cx="461.9" cy="388.4" r="1.22" fill="#008bfb"/>
<circle cx="461.9" cy="396.1" r="1.22" fill="#008bfb"/>
<circle cx="483.9" cy="359.6" r="1.22" fill="#ff0052"/>
<circle cx="483.9" cy="388.8" r="1.22" fill="#ff0052"/>
<circle cx="483.9" cy="399.6" r="1.22" fill="#ff0052"/>
<circle cx="483.9" cy="373.8" r="1.22" fill="#008bfb"/>
<circle cx="483.9" cy="376.5" r="1.22" fill="#008bfb"/>
<circle cx="483.9" cy="384.5" r="1.22" fill="#008bfb"/>
<circle cx="483.9" cy="379.0" r="1.22" fill="#8a2fb8"/>
<circle cx="483.9" cy="380.5" r="1.22" fill="#8a2fb8"/>
<circle cx="483.9" cy="382.0" r="1.22" fill="#8a2fb8"/>
<circle cx="483.9" cy="386.9" r="1.22" fill="#8a2fb8"/>
<circle cx="483.9" cy="393.9" r="1.22" fill="#8a2fb8"/>
<circle cx="506.0" cy="388.7" r="1.22" fill="#ff0052"/>
<circle cx="506.0" cy="418.7" r="1.22" fill="#ff0052"/>
<circle cx="506.0" cy="416.6" r="1.22" fill="#8a2fb8"/>
<circle cx="528.2" cy="346.4" r="1.22" fill="#ff0052"/>
<circle cx="528.2" cy="350.7" r="1.22" fill="#ff0052"/>
<circle cx="528.2" cy="352.8" r="1.22" fill="#ff0052"/>
<circle cx="528.2" cy="357.4" r="1.22" fill="#ff0052"/>
<circle cx="528.2" cy="359.9" r="1.22" fill="#ff0052"/>
<circle cx="528.2" cy="362.8" r="1.22" fill="#ff0052"/>
<circle cx="528.2" cy="366.9" r="1.22" fill="#ff0052"/>
<circle cx="528.2" cy="368.4" r="1.22" fill="#ff0052"/>
<circle cx="528.2" cy="374.5" r="1.22" fill="#ff0052"/>
<circle cx="528.2" cy="378.9" r="1.22" fill="#ff0052"/>
<circle cx="528.2" cy="380.3" r="1.22" fill="#ff0052"/>
<circle cx="528.2" cy="381.8" r="1.22" fill="#ff0052"/>
<circle cx="528.2" cy="383.2" r="1.22" fill="#ff0052"/>
<circle cx="528.2" cy="384.7" r="1.22" fill="#ff0052"/>
<circle cx="528.2" cy="386.9" r="1.22" fill="#ff0052"/>
<circle cx="528.2" cy="388.4" r="1.22" fill="#ff0052"/>
<circle cx="528.2" cy="390.5" r="1.22" fill="#ff0052"/>
<circle cx="528.2" cy="397.4" r="1.22" fill="#ff0052"/>
<circle cx="528.2" cy="400.8" r="1.22" fill="#ff0052"/>
<circle cx="528.2" cy="401.9" r="1.22" fill="#ff0052"/>
<circle cx="528.2" cy="407.8" r="1.22" fill="#ff0052"/>
<circle cx="528.2" cy="409.8" r="1.22" fill="#ff0052"/>
<circle cx="528.2" cy="421.9" r="1.22" fill="#ff0052"/>
<circle cx="528.2" cy="432.3" r="1.22" fill="#ff0052"/>
<circle cx="550.2" cy="335.5" r="1.22" fill="#008bfb"/>
<circle cx="550.2" cy="336.3" r="1.22" fill="#008bfb"/>
<circle cx="550.2" cy="353.1" r="1.22" fill="#008bfb"/>
<circle cx="616.4" cy="265.3" r="1.22" fill="#ff0052"/>
<circle cx="616.4" cy="271.9" r="1.22" fill="#ff0052"/>
<circle cx="616.4" cy="274.1" r="1.22" fill="#ff0052"/>
<circle cx="616.4" cy="276.6" r="1.22" fill="#ff0052"/>
<circle cx="616.4" cy="279.2" r="1.22" fill="#ff0052"/>
<circle cx="616.4" cy="282.4" r="1.22" fill="#008bfb"/>
<circle cx="616.4" cy="285.0" r="1.22" fill="#ff0052"/>
<circle cx="616.4" cy="286.0" r="1.22" fill="#ff0052"/>
<circle cx="616.4" cy="287.0" r="1.22" fill="#ff0052"/>
<circle cx="616.4" cy="288.0" r="1.22" fill="#ff0052"/>
<circle cx="616.4" cy="289.0" r="1.22" fill="#ff0052"/>
<circle cx="616.4" cy="290.0" r="1.22" fill="#ff0052"/>
<circle cx="616.4" cy="291.0" r="1.22" fill="#ff0052"/>
<circle cx="616.4" cy="292.0" r="1.22" fill="#ff0052"/>
<circle cx="616.4" cy="293.0" r="1.22" fill="#ff0052"/>
<circle cx="616.4" cy="294.0" r="1.22" fill="#ff0052"/>
<circle cx="616.4" cy="295.0" r="1.22" fill="#ff0052"/>
<circle cx="616.4" cy="296.0" r="1.22" fill="#ff0052"/>
<circle cx="616.4" cy="297.0" r="1.22" fill="#ff0052"/>
<circle cx="616.4" cy="298.0" r="1.22" fill="#ff0052"/>
<circle cx="616.4" cy="299.0" r="1.22" fill="#ff0052"/>
<circle cx="616.4" cy="300.0" r="1.22" fill="#ff0052"/>
<circle cx="616.4" cy="301.0" r="1.22" fill="#ff0052"/>
<circle cx="616.4" cy="302.0" r="1.22" fill="#ff0052"/>
<circle cx="616.4" cy="303.0" r="1.22" fill="#ff0052"/>
<circle cx="616.4" cy="304.0" r="1.22" fill="#ff0052"/>
<circle cx="616.4" cy="305.0" r="1.22" fill="#ff0052"/>
<circle cx="616.4" cy="306.0" r="1.22" fill="#ff0052"/>
<circle cx="616.4" cy="307.0" r="1.22" fill="#ff0052"/>
<circle cx="616.4" cy="308.0" r="1.22" fill="#ff0052"/>
<circle cx="616.4" cy="309.0" r="1.22" fill="#008bfb"/>
<circle cx="616.4" cy="310.0" r="1.22" fill="#008bfb"/>
<circle cx="616.4" cy="311.0" r="1.22" fill="#008bfb"/>
<circle cx="616.4" cy="312.0" r="1.22" fill="#008bfb"/>
<circle cx="616.4" cy="313.0" r="1.22" fill="#008bfb"/>
<circle cx="616.4" cy="314.0" r="1.22" fill="#008bfb"/>
<circle cx="616.4" cy="315.0" r="1.22" fill="#ff0052"/>
<circle cx="616.4" cy="316.0" r="1.22" fill="#ff0052"/>
<circle cx="616.4" cy="317.0" r="1.22" fill="#ff0052"/>
<circle cx="616.4" cy="318.0" r="1.22" fill="#ff0052"/>
<circle cx="616.4" cy="319.0" r="1.22" fill="#ff0052"/>
<circle cx="616.4" cy="320.0" r="1.22" fill="#ff0052"/>
<circle cx="616.4" cy="321.0" r="1.22" fill="#ff0052"/>
<circle cx="616.4" cy="322.0" r="1.22" fill="#ff0052"/>
<circle cx="616.4" cy="323.0" r="1.22" fill="#ff0052"/>
<circle cx="616.4" cy="324.0" r="1.22" fill="#008bfb"/>
<circle cx="616.4" cy="325.0" r="1.22" fill="#008bfb"/>
<circle cx="616.4" cy="326.0" r="1.22" fill="#008bfb"/>
<circle cx="616.4" cy="327.0" r="1.22" fill="#008bfb"/>
<circle cx="616.4" cy="328.0" r="1.22" fill="#008bfb"/>
<circle cx="616.4" cy="329.0" r="1.22" fill="#008bfb"/>
<circle cx="616.4" cy="330.0" r="1.22" fill="#008bfb"/>
<circle cx="616.4" cy="331.0" r="1.22" fill="#008bfb"/>
<circle cx="616.4" cy="293.8" r="0.95" fill="#3a6fe0"/>
<circle cx="616.4" cy="301.1" r="0.95" fill="#3a6fe0"/>
<circle cx="616.4" cy="317.5" r="0.9" fill="#008bfb"/>
<circle cx="616.4" cy="321.0" r="0.9" fill="#008bfb"/>
<circle cx="616.4" cy="327.6" r="0.9" fill="#ff0052"/>
<circle cx="616.4" cy="333.3" r="1.22" fill="#008bfb"/>
<circle cx="616.4" cy="335.8" r="1.22" fill="#008bfb"/>
<circle cx="616.4" cy="340.6" r="1.22" fill="#008bfb"/>
<circle cx="616.4" cy="357.7" r="1.22" fill="#008bfb"/>
<circle cx="616.4" cy="338.0" r="1.22" fill="#ff0052"/>
<circle cx="616.4" cy="353.4" r="1.22" fill="#ff0052"/></svg>
</body></html>
